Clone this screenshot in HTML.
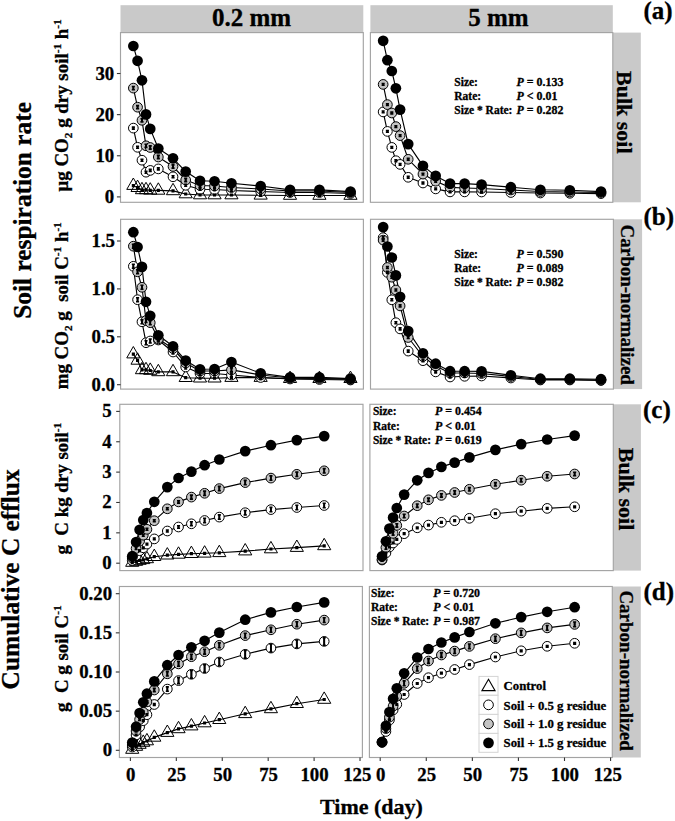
<!DOCTYPE html><html><head><meta charset="utf-8"><style>html,body{margin:0;padding:0;background:#fff;width:675px;height:821px;overflow:hidden}svg{display:block}text{font-family:"Liberation Serif", serif;font-weight:bold;fill:#000;stroke:#000;stroke-width:0.3px}</style></head><body>
<svg width="675" height="821" viewBox="0 0 675 821">
<rect x="0" y="0" width="675" height="821" fill="#fff"/>
<rect x="120.5" y="5.2" width="242.8" height="27.4" fill="#c9c9c9"/>
<rect x="370.4" y="5.2" width="242.4" height="27.4" fill="#c9c9c9"/>
<text x="212" y="25.9" font-size="25" text-anchor="start" >0.2 mm</text>
<text x="468.3" y="25.9" font-size="25" text-anchor="start" >5 mm</text>
<rect x="612.8" y="32.6" width="28" height="169.7" fill="#c9c9c9"/>
<rect x="613.4" y="219.3" width="28.7" height="169.8" fill="#c9c9c9"/>
<rect x="613.3" y="404.3" width="27.6" height="166.3" fill="#c9c9c9"/>
<rect x="612.3" y="586.5" width="28.5" height="171" fill="#c9c9c9"/>
<rect x="120.5" y="32.6" width="242.8" height="169.7" fill="#fff"/>
<rect x="370.4" y="32.6" width="242.4" height="169.7" fill="#fff"/>
<rect x="120.6" y="219.3" width="242.8" height="169.8" fill="#fff"/>
<rect x="370.5" y="219.3" width="242.9" height="169.8" fill="#fff"/>
<rect x="119.8" y="404.3" width="243.2" height="166.3" fill="#fff"/>
<rect x="369.9" y="404.3" width="243.4" height="166.3" fill="#fff"/>
<rect x="119.4" y="586.5" width="243" height="171" fill="#fff"/>
<rect x="369.4" y="586.5" width="242.9" height="171" fill="#fff"/>
<defs>
<clipPath id="caL"><rect x="120.5" y="32.6" width="242.8" height="169.7"/></clipPath>
<clipPath id="caR"><rect x="370.4" y="32.6" width="242.4" height="169.7"/></clipPath>
<clipPath id="cbL"><rect x="120.6" y="219.3" width="242.8" height="169.8"/></clipPath>
<clipPath id="cbR"><rect x="370.5" y="219.3" width="242.9" height="169.8"/></clipPath>
<clipPath id="ccL"><rect x="119.8" y="404.3" width="243.2" height="166.3"/></clipPath>
<clipPath id="ccR"><rect x="369.9" y="404.3" width="243.4" height="166.3"/></clipPath>
<clipPath id="cdL"><rect x="119.4" y="586.5" width="243" height="171"/></clipPath>
<clipPath id="cdR"><rect x="369.4" y="586.5" width="242.9" height="171"/></clipPath>
</defs>
<g clip-path="url(#caL)">
<polyline points="133.34,185.6 137.56,187.7 141.97,189.9 146.01,189.9 150.24,190.3 158.32,190.4 173.02,190.9 185.69,194 200.02,195 214.53,195 231.44,195 260.64,195.3 290.04,195.5 319.43,195.5 350.47,195.5" fill="none" stroke="#000" stroke-width="1.15" stroke-linejoin="round"/>
<polyline points="133.34,128.1 137.56,147.3 141.97,160.2 146.01,172.2 150.24,170.4 158.32,168.9 173.02,176.8 185.69,185.3 200.02,189.3 214.53,189.5 231.44,190.5 260.64,191.5 290.04,192.5 319.43,192.5 350.47,193.5" fill="none" stroke="#000" stroke-width="1.15" stroke-linejoin="round"/>
<polyline points="133.34,88.1 137.56,107.2 141.97,120.3 146.01,145.8 150.24,147.5 158.32,157 173.02,166.5 185.69,180 200.02,185.5 214.53,186 231.44,187.5 260.64,189 290.04,191 319.43,191 350.47,192.5" fill="none" stroke="#000" stroke-width="1.15" stroke-linejoin="round"/>
<polyline points="133.34,46 137.56,60.8 141.97,80.3 146.01,114.4 150.24,128.9 158.32,148.5 173.02,158.3 185.69,171.6 200.02,180.8 214.53,181.3 231.44,183.3 260.64,186 290.04,189.9 319.43,189.9 350.47,191.6" fill="none" stroke="#000" stroke-width="1.15" stroke-linejoin="round"/>
<path d="M133.34 178L139.92 189.4L126.76 189.4Z" fill="none" stroke="#000" stroke-width="1" stroke-linejoin="miter"/>
<path d="M137.56 180.1L144.15 191.5L130.98 191.5Z" fill="none" stroke="#000" stroke-width="1" stroke-linejoin="miter"/>
<path d="M141.97 182.3L148.55 193.7L135.39 193.7Z" fill="none" stroke="#000" stroke-width="1" stroke-linejoin="miter"/>
<path d="M146.01 182.3L152.6 193.7L139.43 193.7Z" fill="none" stroke="#000" stroke-width="1" stroke-linejoin="miter"/>
<path d="M150.24 182.7L156.82 194.1L143.66 194.1Z" fill="none" stroke="#000" stroke-width="1" stroke-linejoin="miter"/>
<path d="M158.32 182.8L164.9 194.2L151.74 194.2Z" fill="none" stroke="#000" stroke-width="1" stroke-linejoin="miter"/>
<path d="M173.02 183.3L179.6 194.7L166.44 194.7Z" fill="none" stroke="#000" stroke-width="1" stroke-linejoin="miter"/>
<path d="M185.69 186.4L192.28 197.8L179.11 197.8Z" fill="none" stroke="#000" stroke-width="1" stroke-linejoin="miter"/>
<path d="M200.02 187.4L206.6 198.8L193.44 198.8Z" fill="none" stroke="#000" stroke-width="1" stroke-linejoin="miter"/>
<path d="M214.53 187.4L221.12 198.8L207.95 198.8Z" fill="none" stroke="#000" stroke-width="1" stroke-linejoin="miter"/>
<path d="M231.44 187.4L238.02 198.8L224.85 198.8Z" fill="none" stroke="#000" stroke-width="1" stroke-linejoin="miter"/>
<path d="M260.64 187.7L267.22 199.1L254.06 199.1Z" fill="none" stroke="#000" stroke-width="1" stroke-linejoin="miter"/>
<path d="M290.04 187.9L296.62 199.3L283.45 199.3Z" fill="none" stroke="#000" stroke-width="1" stroke-linejoin="miter"/>
<path d="M319.43 187.9L326.01 199.3L312.85 199.3Z" fill="none" stroke="#000" stroke-width="1" stroke-linejoin="miter"/>
<path d="M350.47 187.9L357.05 199.3L343.89 199.3Z" fill="none" stroke="#000" stroke-width="1" stroke-linejoin="miter"/>
<circle cx="133.34" cy="128.1" r="4.85" fill="#fff" stroke="#000" stroke-width="1"/>
<circle cx="137.56" cy="147.3" r="4.85" fill="#fff" stroke="#000" stroke-width="1"/>
<circle cx="141.97" cy="160.2" r="4.85" fill="#fff" stroke="#000" stroke-width="1"/>
<circle cx="146.01" cy="172.2" r="4.85" fill="#fff" stroke="#000" stroke-width="1"/>
<circle cx="150.24" cy="170.4" r="4.85" fill="#fff" stroke="#000" stroke-width="1"/>
<circle cx="158.32" cy="168.9" r="4.85" fill="#fff" stroke="#000" stroke-width="1"/>
<circle cx="173.02" cy="176.8" r="4.85" fill="#fff" stroke="#000" stroke-width="1"/>
<circle cx="185.69" cy="185.3" r="4.85" fill="#fff" stroke="#000" stroke-width="1"/>
<circle cx="200.02" cy="189.3" r="4.85" fill="#fff" stroke="#000" stroke-width="1"/>
<circle cx="214.53" cy="189.5" r="4.85" fill="#fff" stroke="#000" stroke-width="1"/>
<circle cx="231.44" cy="190.5" r="4.85" fill="#fff" stroke="#000" stroke-width="1"/>
<circle cx="260.64" cy="191.5" r="4.85" fill="#fff" stroke="#000" stroke-width="1"/>
<circle cx="290.04" cy="192.5" r="4.85" fill="#fff" stroke="#000" stroke-width="1"/>
<circle cx="319.43" cy="192.5" r="4.85" fill="#fff" stroke="#000" stroke-width="1"/>
<circle cx="350.47" cy="193.5" r="4.85" fill="#fff" stroke="#000" stroke-width="1"/>
<circle cx="133.34" cy="88.1" r="4.85" fill="#c3c3c3" stroke="#000" stroke-width="1"/>
<circle cx="137.56" cy="107.2" r="4.85" fill="#c3c3c3" stroke="#000" stroke-width="1"/>
<circle cx="141.97" cy="120.3" r="4.85" fill="#c3c3c3" stroke="#000" stroke-width="1"/>
<circle cx="146.01" cy="145.8" r="4.85" fill="#c3c3c3" stroke="#000" stroke-width="1"/>
<circle cx="150.24" cy="147.5" r="4.85" fill="#c3c3c3" stroke="#000" stroke-width="1"/>
<circle cx="158.32" cy="157" r="4.85" fill="#c3c3c3" stroke="#000" stroke-width="1"/>
<circle cx="173.02" cy="166.5" r="4.85" fill="#c3c3c3" stroke="#000" stroke-width="1"/>
<circle cx="185.69" cy="180" r="4.85" fill="#c3c3c3" stroke="#000" stroke-width="1"/>
<circle cx="200.02" cy="185.5" r="4.85" fill="#c3c3c3" stroke="#000" stroke-width="1"/>
<circle cx="214.53" cy="186" r="4.85" fill="#c3c3c3" stroke="#000" stroke-width="1"/>
<circle cx="231.44" cy="187.5" r="4.85" fill="#c3c3c3" stroke="#000" stroke-width="1"/>
<circle cx="260.64" cy="189" r="4.85" fill="#c3c3c3" stroke="#000" stroke-width="1"/>
<circle cx="290.04" cy="191" r="4.85" fill="#c3c3c3" stroke="#000" stroke-width="1"/>
<circle cx="319.43" cy="191" r="4.85" fill="#c3c3c3" stroke="#000" stroke-width="1"/>
<circle cx="350.47" cy="192.5" r="4.85" fill="#c3c3c3" stroke="#000" stroke-width="1"/>
<circle cx="133.34" cy="46" r="5.35" fill="#000"/>
<circle cx="137.56" cy="60.8" r="5.35" fill="#000"/>
<circle cx="141.97" cy="80.3" r="5.35" fill="#000"/>
<circle cx="146.01" cy="114.4" r="5.35" fill="#000"/>
<circle cx="150.24" cy="128.9" r="5.35" fill="#000"/>
<circle cx="158.32" cy="148.5" r="5.35" fill="#000"/>
<circle cx="173.02" cy="158.3" r="5.35" fill="#000"/>
<circle cx="185.69" cy="171.6" r="5.35" fill="#000"/>
<circle cx="200.02" cy="180.8" r="5.35" fill="#000"/>
<circle cx="214.53" cy="181.3" r="5.35" fill="#000"/>
<circle cx="231.44" cy="183.3" r="5.35" fill="#000"/>
<circle cx="260.64" cy="186" r="5.35" fill="#000"/>
<circle cx="290.04" cy="189.9" r="5.35" fill="#000"/>
<circle cx="319.43" cy="189.9" r="5.35" fill="#000"/>
<circle cx="350.47" cy="191.6" r="5.35" fill="#000"/>
<path d="M131.79 184.8H134.89M133.34 184.8V186.4M131.79 186.4H134.89" stroke="#000" stroke-width="1.6" fill="none"/><path d="M133.34 184.8V186.4" stroke="#000" stroke-width="1.9"/>
<path d="M136.01 186.9H139.11M137.56 186.9V188.5M136.01 188.5H139.11" stroke="#000" stroke-width="1.6" fill="none"/><path d="M137.56 186.9V188.5" stroke="#000" stroke-width="1.9"/>
<path d="M140.42 189.1H143.52M141.97 189.1V190.7M140.42 190.7H143.52" stroke="#000" stroke-width="1.6" fill="none"/><path d="M141.97 189.1V190.7" stroke="#000" stroke-width="1.9"/>
<path d="M144.46 189.1H147.56M146.01 189.1V190.7M144.46 190.7H147.56" stroke="#000" stroke-width="1.6" fill="none"/><path d="M146.01 189.1V190.7" stroke="#000" stroke-width="1.9"/>
<path d="M148.69 189.5H151.79M150.24 189.5V191.1M148.69 191.1H151.79" stroke="#000" stroke-width="1.6" fill="none"/><path d="M150.24 189.5V191.1" stroke="#000" stroke-width="1.9"/>
<path d="M156.77 189.6H159.87M158.32 189.6V191.2M156.77 191.2H159.87" stroke="#000" stroke-width="1.6" fill="none"/><path d="M158.32 189.6V191.2" stroke="#000" stroke-width="1.9"/>
<path d="M171.47 190.1H174.57M173.02 190.1V191.7M171.47 191.7H174.57" stroke="#000" stroke-width="1.6" fill="none"/><path d="M173.02 190.1V191.7" stroke="#000" stroke-width="1.9"/>
<path d="M184.14 193.2H187.24M185.69 193.2V194.8M184.14 194.8H187.24" stroke="#000" stroke-width="1.6" fill="none"/><path d="M185.69 193.2V194.8" stroke="#000" stroke-width="1.9"/>
<path d="M198.47 194.2H201.57M200.02 194.2V195.8M198.47 195.8H201.57" stroke="#000" stroke-width="1.6" fill="none"/><path d="M200.02 194.2V195.8" stroke="#000" stroke-width="1.9"/>
<path d="M212.98 194.2H216.08M214.53 194.2V195.8M212.98 195.8H216.08" stroke="#000" stroke-width="1.6" fill="none"/><path d="M214.53 194.2V195.8" stroke="#000" stroke-width="1.9"/>
<path d="M229.88 194.2H232.99M231.44 194.2V195.8M229.88 195.8H232.99" stroke="#000" stroke-width="1.6" fill="none"/><path d="M231.44 194.2V195.8" stroke="#000" stroke-width="1.9"/>
<path d="M259.09 194.5H262.19M260.64 194.5V196.1M259.09 196.1H262.19" stroke="#000" stroke-width="1.6" fill="none"/><path d="M260.64 194.5V196.1" stroke="#000" stroke-width="1.9"/>
<path d="M288.49 194.7H291.59M290.04 194.7V196.3M288.49 196.3H291.59" stroke="#000" stroke-width="1.6" fill="none"/><path d="M290.04 194.7V196.3" stroke="#000" stroke-width="1.9"/>
<path d="M317.88 194.7H320.98M319.43 194.7V196.3M317.88 196.3H320.98" stroke="#000" stroke-width="1.6" fill="none"/><path d="M319.43 194.7V196.3" stroke="#000" stroke-width="1.9"/>
<path d="M348.92 194.7H352.02M350.47 194.7V196.3M348.92 196.3H352.02" stroke="#000" stroke-width="1.6" fill="none"/><path d="M350.47 194.7V196.3" stroke="#000" stroke-width="1.9"/>
<path d="M131.79 127.1H134.89M133.34 127.1V129.1M131.79 129.1H134.89" stroke="#000" stroke-width="1.6" fill="none"/><path d="M133.34 127.1V129.1" stroke="#000" stroke-width="1.9"/>
<path d="M136.01 146.3H139.11M137.56 146.3V148.3M136.01 148.3H139.11" stroke="#000" stroke-width="1.6" fill="none"/><path d="M137.56 146.3V148.3" stroke="#000" stroke-width="1.9"/>
<path d="M140.42 159.2H143.52M141.97 159.2V161.2M140.42 161.2H143.52" stroke="#000" stroke-width="1.6" fill="none"/><path d="M141.97 159.2V161.2" stroke="#000" stroke-width="1.9"/>
<path d="M144.46 171.2H147.56M146.01 171.2V173.2M144.46 173.2H147.56" stroke="#000" stroke-width="1.6" fill="none"/><path d="M146.01 171.2V173.2" stroke="#000" stroke-width="1.9"/>
<path d="M148.69 169.4H151.79M150.24 169.4V171.4M148.69 171.4H151.79" stroke="#000" stroke-width="1.6" fill="none"/><path d="M150.24 169.4V171.4" stroke="#000" stroke-width="1.9"/>
<path d="M156.77 167.9H159.87M158.32 167.9V169.9M156.77 169.9H159.87" stroke="#000" stroke-width="1.6" fill="none"/><path d="M158.32 167.9V169.9" stroke="#000" stroke-width="1.9"/>
<path d="M171.47 175.8H174.57M173.02 175.8V177.8M171.47 177.8H174.57" stroke="#000" stroke-width="1.6" fill="none"/><path d="M173.02 175.8V177.8" stroke="#000" stroke-width="1.9"/>
<path d="M184.14 184.3H187.24M185.69 184.3V186.3M184.14 186.3H187.24" stroke="#000" stroke-width="1.6" fill="none"/><path d="M185.69 184.3V186.3" stroke="#000" stroke-width="1.9"/>
<path d="M198.47 188.3H201.57M200.02 188.3V190.3M198.47 190.3H201.57" stroke="#000" stroke-width="1.6" fill="none"/><path d="M200.02 188.3V190.3" stroke="#000" stroke-width="1.9"/>
<path d="M212.98 188.5H216.08M214.53 188.5V190.5M212.98 190.5H216.08" stroke="#000" stroke-width="1.6" fill="none"/><path d="M214.53 188.5V190.5" stroke="#000" stroke-width="1.9"/>
<path d="M229.88 189.5H232.99M231.44 189.5V191.5M229.88 191.5H232.99" stroke="#000" stroke-width="1.6" fill="none"/><path d="M231.44 189.5V191.5" stroke="#000" stroke-width="1.9"/>
<path d="M259.09 190.5H262.19M260.64 190.5V192.5M259.09 192.5H262.19" stroke="#000" stroke-width="1.6" fill="none"/><path d="M260.64 190.5V192.5" stroke="#000" stroke-width="1.9"/>
<path d="M288.49 191.5H291.59M290.04 191.5V193.5M288.49 193.5H291.59" stroke="#000" stroke-width="1.6" fill="none"/><path d="M290.04 191.5V193.5" stroke="#000" stroke-width="1.9"/>
<path d="M317.88 191.5H320.98M319.43 191.5V193.5M317.88 193.5H320.98" stroke="#000" stroke-width="1.6" fill="none"/><path d="M319.43 191.5V193.5" stroke="#000" stroke-width="1.9"/>
<path d="M348.92 192.5H352.02M350.47 192.5V194.5M348.92 194.5H352.02" stroke="#000" stroke-width="1.6" fill="none"/><path d="M350.47 192.5V194.5" stroke="#000" stroke-width="1.9"/>
<path d="M131.79 86.5H134.89M133.34 86.5V89.7M131.79 89.7H134.89" stroke="#000" stroke-width="1.6" fill="none"/><path d="M133.34 86.5V89.7" stroke="#000" stroke-width="1.9"/>
<path d="M136.01 105.6H139.11M137.56 105.6V108.8M136.01 108.8H139.11" stroke="#000" stroke-width="1.6" fill="none"/><path d="M137.56 105.6V108.8" stroke="#000" stroke-width="1.9"/>
<path d="M140.42 118.7H143.52M141.97 118.7V121.9M140.42 121.9H143.52" stroke="#000" stroke-width="1.6" fill="none"/><path d="M141.97 118.7V121.9" stroke="#000" stroke-width="1.9"/>
<path d="M144.46 144.2H147.56M146.01 144.2V147.4M144.46 147.4H147.56" stroke="#000" stroke-width="1.6" fill="none"/><path d="M146.01 144.2V147.4" stroke="#000" stroke-width="1.9"/>
<path d="M148.69 145.9H151.79M150.24 145.9V149.1M148.69 149.1H151.79" stroke="#000" stroke-width="1.6" fill="none"/><path d="M150.24 145.9V149.1" stroke="#000" stroke-width="1.9"/>
<path d="M156.77 155.4H159.87M158.32 155.4V158.6M156.77 158.6H159.87" stroke="#000" stroke-width="1.6" fill="none"/><path d="M158.32 155.4V158.6" stroke="#000" stroke-width="1.9"/>
<path d="M171.47 164.9H174.57M173.02 164.9V168.1M171.47 168.1H174.57" stroke="#000" stroke-width="1.6" fill="none"/><path d="M173.02 164.9V168.1" stroke="#000" stroke-width="1.9"/>
<path d="M184.14 178.4H187.24M185.69 178.4V181.6M184.14 181.6H187.24" stroke="#000" stroke-width="1.6" fill="none"/><path d="M185.69 178.4V181.6" stroke="#000" stroke-width="1.9"/>
<path d="M198.47 183.9H201.57M200.02 183.9V187.1M198.47 187.1H201.57" stroke="#000" stroke-width="1.6" fill="none"/><path d="M200.02 183.9V187.1" stroke="#000" stroke-width="1.9"/>
<path d="M212.98 184.4H216.08M214.53 184.4V187.6M212.98 187.6H216.08" stroke="#000" stroke-width="1.6" fill="none"/><path d="M214.53 184.4V187.6" stroke="#000" stroke-width="1.9"/>
<path d="M229.88 185.9H232.99M231.44 185.9V189.1M229.88 189.1H232.99" stroke="#000" stroke-width="1.6" fill="none"/><path d="M231.44 185.9V189.1" stroke="#000" stroke-width="1.9"/>
<path d="M259.09 187.4H262.19M260.64 187.4V190.6M259.09 190.6H262.19" stroke="#000" stroke-width="1.6" fill="none"/><path d="M260.64 187.4V190.6" stroke="#000" stroke-width="1.9"/>
<path d="M288.49 189.4H291.59M290.04 189.4V192.6M288.49 192.6H291.59" stroke="#000" stroke-width="1.6" fill="none"/><path d="M290.04 189.4V192.6" stroke="#000" stroke-width="1.9"/>
<path d="M317.88 189.4H320.98M319.43 189.4V192.6M317.88 192.6H320.98" stroke="#000" stroke-width="1.6" fill="none"/><path d="M319.43 189.4V192.6" stroke="#000" stroke-width="1.9"/>
<path d="M348.92 190.9H352.02M350.47 190.9V194.1M348.92 194.1H352.02" stroke="#000" stroke-width="1.6" fill="none"/><path d="M350.47 190.9V194.1" stroke="#000" stroke-width="1.9"/>
<path d="M131.79 44.5H134.89M133.34 44.5V47.5M131.79 47.5H134.89" stroke="#000" stroke-width="1.6" fill="none"/><path d="M133.34 44.5V47.5" stroke="#000" stroke-width="1.9"/>
<path d="M136.01 59.3H139.11M137.56 59.3V62.3M136.01 62.3H139.11" stroke="#000" stroke-width="1.6" fill="none"/><path d="M137.56 59.3V62.3" stroke="#000" stroke-width="1.9"/>
<path d="M140.42 78.8H143.52M141.97 78.8V81.8M140.42 81.8H143.52" stroke="#000" stroke-width="1.6" fill="none"/><path d="M141.97 78.8V81.8" stroke="#000" stroke-width="1.9"/>
<path d="M144.46 112.9H147.56M146.01 112.9V115.9M144.46 115.9H147.56" stroke="#000" stroke-width="1.6" fill="none"/><path d="M146.01 112.9V115.9" stroke="#000" stroke-width="1.9"/>
<path d="M148.69 127.4H151.79M150.24 127.4V130.4M148.69 130.4H151.79" stroke="#000" stroke-width="1.6" fill="none"/><path d="M150.24 127.4V130.4" stroke="#000" stroke-width="1.9"/>
<path d="M156.77 147H159.87M158.32 147V150M156.77 150H159.87" stroke="#000" stroke-width="1.6" fill="none"/><path d="M158.32 147V150" stroke="#000" stroke-width="1.9"/>
<path d="M171.47 156.8H174.57M173.02 156.8V159.8M171.47 159.8H174.57" stroke="#000" stroke-width="1.6" fill="none"/><path d="M173.02 156.8V159.8" stroke="#000" stroke-width="1.9"/>
<path d="M184.14 170.1H187.24M185.69 170.1V173.1M184.14 173.1H187.24" stroke="#000" stroke-width="1.6" fill="none"/><path d="M185.69 170.1V173.1" stroke="#000" stroke-width="1.9"/>
<path d="M198.47 179.3H201.57M200.02 179.3V182.3M198.47 182.3H201.57" stroke="#000" stroke-width="1.6" fill="none"/><path d="M200.02 179.3V182.3" stroke="#000" stroke-width="1.9"/>
<path d="M212.98 179.8H216.08M214.53 179.8V182.8M212.98 182.8H216.08" stroke="#000" stroke-width="1.6" fill="none"/><path d="M214.53 179.8V182.8" stroke="#000" stroke-width="1.9"/>
<path d="M229.88 181.8H232.99M231.44 181.8V184.8M229.88 184.8H232.99" stroke="#000" stroke-width="1.6" fill="none"/><path d="M231.44 181.8V184.8" stroke="#000" stroke-width="1.9"/>
<path d="M259.09 184.5H262.19M260.64 184.5V187.5M259.09 187.5H262.19" stroke="#000" stroke-width="1.6" fill="none"/><path d="M260.64 184.5V187.5" stroke="#000" stroke-width="1.9"/>
<path d="M288.49 188.4H291.59M290.04 188.4V191.4M288.49 191.4H291.59" stroke="#000" stroke-width="1.6" fill="none"/><path d="M290.04 188.4V191.4" stroke="#000" stroke-width="1.9"/>
<path d="M317.88 188.4H320.98M319.43 188.4V191.4M317.88 191.4H320.98" stroke="#000" stroke-width="1.6" fill="none"/><path d="M319.43 188.4V191.4" stroke="#000" stroke-width="1.9"/>
<path d="M348.92 190.1H352.02M350.47 190.1V193.1M348.92 193.1H352.02" stroke="#000" stroke-width="1.6" fill="none"/><path d="M350.47 190.1V193.1" stroke="#000" stroke-width="1.9"/>
</g>
<g clip-path="url(#caR)">
<polyline points="383.15,111.9 387.39,131.4 391.81,147.4 395.87,160.7 400.1,164.4 408.21,177.3 422.96,183 435.67,188.9 450.05,191.9 464.61,191.9 481.56,192 510.87,192.5 540.36,193 569.84,193.3 600.99,193.6" fill="none" stroke="#000" stroke-width="1.15" stroke-linejoin="round"/>
<polyline points="383.15,84.4 387.39,104.6 391.81,113 395.87,126.6 400.1,135.6 408.21,159.3 422.96,174.1 435.67,181.2 450.05,187.4 464.61,188 481.56,188.5 510.87,190 540.36,191.5 569.84,192 600.99,192.5" fill="none" stroke="#000" stroke-width="1.15" stroke-linejoin="round"/>
<polyline points="383.15,40.8 387.39,60.2 391.81,71 395.87,88.3 400.1,109.6 408.21,144.1 422.96,165.9 435.67,175.9 450.05,183.6 464.61,183.6 481.56,184.6 510.87,187.2 540.36,189.8 569.84,190.3 600.99,191.6" fill="none" stroke="#000" stroke-width="1.15" stroke-linejoin="round"/>
<circle cx="383.15" cy="111.9" r="4.85" fill="#fff" stroke="#000" stroke-width="1"/>
<circle cx="387.39" cy="131.4" r="4.85" fill="#fff" stroke="#000" stroke-width="1"/>
<circle cx="391.81" cy="147.4" r="4.85" fill="#fff" stroke="#000" stroke-width="1"/>
<circle cx="395.87" cy="160.7" r="4.85" fill="#fff" stroke="#000" stroke-width="1"/>
<circle cx="400.1" cy="164.4" r="4.85" fill="#fff" stroke="#000" stroke-width="1"/>
<circle cx="408.21" cy="177.3" r="4.85" fill="#fff" stroke="#000" stroke-width="1"/>
<circle cx="422.96" cy="183" r="4.85" fill="#fff" stroke="#000" stroke-width="1"/>
<circle cx="435.67" cy="188.9" r="4.85" fill="#fff" stroke="#000" stroke-width="1"/>
<circle cx="450.05" cy="191.9" r="4.85" fill="#fff" stroke="#000" stroke-width="1"/>
<circle cx="464.61" cy="191.9" r="4.85" fill="#fff" stroke="#000" stroke-width="1"/>
<circle cx="481.56" cy="192" r="4.85" fill="#fff" stroke="#000" stroke-width="1"/>
<circle cx="510.87" cy="192.5" r="4.85" fill="#fff" stroke="#000" stroke-width="1"/>
<circle cx="540.36" cy="193" r="4.85" fill="#fff" stroke="#000" stroke-width="1"/>
<circle cx="569.84" cy="193.3" r="4.85" fill="#fff" stroke="#000" stroke-width="1"/>
<circle cx="600.99" cy="193.6" r="4.85" fill="#fff" stroke="#000" stroke-width="1"/>
<circle cx="383.15" cy="84.4" r="4.85" fill="#c3c3c3" stroke="#000" stroke-width="1"/>
<circle cx="387.39" cy="104.6" r="4.85" fill="#c3c3c3" stroke="#000" stroke-width="1"/>
<circle cx="391.81" cy="113" r="4.85" fill="#c3c3c3" stroke="#000" stroke-width="1"/>
<circle cx="395.87" cy="126.6" r="4.85" fill="#c3c3c3" stroke="#000" stroke-width="1"/>
<circle cx="400.1" cy="135.6" r="4.85" fill="#c3c3c3" stroke="#000" stroke-width="1"/>
<circle cx="408.21" cy="159.3" r="4.85" fill="#c3c3c3" stroke="#000" stroke-width="1"/>
<circle cx="422.96" cy="174.1" r="4.85" fill="#c3c3c3" stroke="#000" stroke-width="1"/>
<circle cx="435.67" cy="181.2" r="4.85" fill="#c3c3c3" stroke="#000" stroke-width="1"/>
<circle cx="450.05" cy="187.4" r="4.85" fill="#c3c3c3" stroke="#000" stroke-width="1"/>
<circle cx="464.61" cy="188" r="4.85" fill="#c3c3c3" stroke="#000" stroke-width="1"/>
<circle cx="481.56" cy="188.5" r="4.85" fill="#c3c3c3" stroke="#000" stroke-width="1"/>
<circle cx="510.87" cy="190" r="4.85" fill="#c3c3c3" stroke="#000" stroke-width="1"/>
<circle cx="540.36" cy="191.5" r="4.85" fill="#c3c3c3" stroke="#000" stroke-width="1"/>
<circle cx="569.84" cy="192" r="4.85" fill="#c3c3c3" stroke="#000" stroke-width="1"/>
<circle cx="600.99" cy="192.5" r="4.85" fill="#c3c3c3" stroke="#000" stroke-width="1"/>
<circle cx="383.15" cy="40.8" r="5.35" fill="#000"/>
<circle cx="387.39" cy="60.2" r="5.35" fill="#000"/>
<circle cx="391.81" cy="71" r="5.35" fill="#000"/>
<circle cx="395.87" cy="88.3" r="5.35" fill="#000"/>
<circle cx="400.1" cy="109.6" r="5.35" fill="#000"/>
<circle cx="408.21" cy="144.1" r="5.35" fill="#000"/>
<circle cx="422.96" cy="165.9" r="5.35" fill="#000"/>
<circle cx="435.67" cy="175.9" r="5.35" fill="#000"/>
<circle cx="450.05" cy="183.6" r="5.35" fill="#000"/>
<circle cx="464.61" cy="183.6" r="5.35" fill="#000"/>
<circle cx="481.56" cy="184.6" r="5.35" fill="#000"/>
<circle cx="510.87" cy="187.2" r="5.35" fill="#000"/>
<circle cx="540.36" cy="189.8" r="5.35" fill="#000"/>
<circle cx="569.84" cy="190.3" r="5.35" fill="#000"/>
<circle cx="600.99" cy="191.6" r="5.35" fill="#000"/>
<path d="M381.6 111H384.7M383.15 111V112.8M381.6 112.8H384.7" stroke="#000" stroke-width="1.6" fill="none"/><path d="M383.15 111V112.8" stroke="#000" stroke-width="1.9"/>
<path d="M385.84 130.5H388.94M387.39 130.5V132.3M385.84 132.3H388.94" stroke="#000" stroke-width="1.6" fill="none"/><path d="M387.39 130.5V132.3" stroke="#000" stroke-width="1.9"/>
<path d="M390.26 146.5H393.36M391.81 146.5V148.3M390.26 148.3H393.36" stroke="#000" stroke-width="1.6" fill="none"/><path d="M391.81 146.5V148.3" stroke="#000" stroke-width="1.9"/>
<path d="M394.32 159.8H397.42M395.87 159.8V161.6M394.32 161.6H397.42" stroke="#000" stroke-width="1.6" fill="none"/><path d="M395.87 159.8V161.6" stroke="#000" stroke-width="1.9"/>
<path d="M398.55 163.5H401.65M400.1 163.5V165.3M398.55 165.3H401.65" stroke="#000" stroke-width="1.6" fill="none"/><path d="M400.1 163.5V165.3" stroke="#000" stroke-width="1.9"/>
<path d="M406.66 176.4H409.76M408.21 176.4V178.2M406.66 178.2H409.76" stroke="#000" stroke-width="1.6" fill="none"/><path d="M408.21 176.4V178.2" stroke="#000" stroke-width="1.9"/>
<path d="M421.41 182.1H424.51M422.96 182.1V183.9M421.41 183.9H424.51" stroke="#000" stroke-width="1.6" fill="none"/><path d="M422.96 182.1V183.9" stroke="#000" stroke-width="1.9"/>
<path d="M434.12 188H437.22M435.67 188V189.8M434.12 189.8H437.22" stroke="#000" stroke-width="1.6" fill="none"/><path d="M435.67 188V189.8" stroke="#000" stroke-width="1.9"/>
<path d="M448.5 191H451.6M450.05 191V192.8M448.5 192.8H451.6" stroke="#000" stroke-width="1.6" fill="none"/><path d="M450.05 191V192.8" stroke="#000" stroke-width="1.9"/>
<path d="M463.06 191H466.16M464.61 191V192.8M463.06 192.8H466.16" stroke="#000" stroke-width="1.6" fill="none"/><path d="M464.61 191V192.8" stroke="#000" stroke-width="1.9"/>
<path d="M480.01 191.1H483.12M481.56 191.1V192.9M480.01 192.9H483.12" stroke="#000" stroke-width="1.6" fill="none"/><path d="M481.56 191.1V192.9" stroke="#000" stroke-width="1.9"/>
<path d="M509.32 191.6H512.42M510.87 191.6V193.4M509.32 193.4H512.42" stroke="#000" stroke-width="1.6" fill="none"/><path d="M510.87 191.6V193.4" stroke="#000" stroke-width="1.9"/>
<path d="M538.81 192.1H541.91M540.36 192.1V193.9M538.81 193.9H541.91" stroke="#000" stroke-width="1.6" fill="none"/><path d="M540.36 192.1V193.9" stroke="#000" stroke-width="1.9"/>
<path d="M568.29 192.4H571.39M569.84 192.4V194.2M568.29 194.2H571.39" stroke="#000" stroke-width="1.6" fill="none"/><path d="M569.84 192.4V194.2" stroke="#000" stroke-width="1.9"/>
<path d="M599.44 192.7H602.54M600.99 192.7V194.5M599.44 194.5H602.54" stroke="#000" stroke-width="1.6" fill="none"/><path d="M600.99 192.7V194.5" stroke="#000" stroke-width="1.9"/>
<path d="M381.6 83.5H384.7M383.15 83.5V85.3M381.6 85.3H384.7" stroke="#000" stroke-width="1.6" fill="none"/><path d="M383.15 83.5V85.3" stroke="#000" stroke-width="1.9"/>
<path d="M385.84 103.7H388.94M387.39 103.7V105.5M385.84 105.5H388.94" stroke="#000" stroke-width="1.6" fill="none"/><path d="M387.39 103.7V105.5" stroke="#000" stroke-width="1.9"/>
<path d="M390.26 112.1H393.36M391.81 112.1V113.9M390.26 113.9H393.36" stroke="#000" stroke-width="1.6" fill="none"/><path d="M391.81 112.1V113.9" stroke="#000" stroke-width="1.9"/>
<path d="M394.32 125.7H397.42M395.87 125.7V127.5M394.32 127.5H397.42" stroke="#000" stroke-width="1.6" fill="none"/><path d="M395.87 125.7V127.5" stroke="#000" stroke-width="1.9"/>
<path d="M398.55 134.7H401.65M400.1 134.7V136.5M398.55 136.5H401.65" stroke="#000" stroke-width="1.6" fill="none"/><path d="M400.1 134.7V136.5" stroke="#000" stroke-width="1.9"/>
<path d="M406.66 158.4H409.76M408.21 158.4V160.2M406.66 160.2H409.76" stroke="#000" stroke-width="1.6" fill="none"/><path d="M408.21 158.4V160.2" stroke="#000" stroke-width="1.9"/>
<path d="M421.41 173.2H424.51M422.96 173.2V175M421.41 175H424.51" stroke="#000" stroke-width="1.6" fill="none"/><path d="M422.96 173.2V175" stroke="#000" stroke-width="1.9"/>
<path d="M434.12 180.3H437.22M435.67 180.3V182.1M434.12 182.1H437.22" stroke="#000" stroke-width="1.6" fill="none"/><path d="M435.67 180.3V182.1" stroke="#000" stroke-width="1.9"/>
<path d="M448.5 186.5H451.6M450.05 186.5V188.3M448.5 188.3H451.6" stroke="#000" stroke-width="1.6" fill="none"/><path d="M450.05 186.5V188.3" stroke="#000" stroke-width="1.9"/>
<path d="M463.06 187.1H466.16M464.61 187.1V188.9M463.06 188.9H466.16" stroke="#000" stroke-width="1.6" fill="none"/><path d="M464.61 187.1V188.9" stroke="#000" stroke-width="1.9"/>
<path d="M480.01 187.6H483.12M481.56 187.6V189.4M480.01 189.4H483.12" stroke="#000" stroke-width="1.6" fill="none"/><path d="M481.56 187.6V189.4" stroke="#000" stroke-width="1.9"/>
<path d="M509.32 189.1H512.42M510.87 189.1V190.9M509.32 190.9H512.42" stroke="#000" stroke-width="1.6" fill="none"/><path d="M510.87 189.1V190.9" stroke="#000" stroke-width="1.9"/>
<path d="M538.81 190.6H541.91M540.36 190.6V192.4M538.81 192.4H541.91" stroke="#000" stroke-width="1.6" fill="none"/><path d="M540.36 190.6V192.4" stroke="#000" stroke-width="1.9"/>
<path d="M568.29 191.1H571.39M569.84 191.1V192.9M568.29 192.9H571.39" stroke="#000" stroke-width="1.6" fill="none"/><path d="M569.84 191.1V192.9" stroke="#000" stroke-width="1.9"/>
<path d="M599.44 191.6H602.54M600.99 191.6V193.4M599.44 193.4H602.54" stroke="#000" stroke-width="1.6" fill="none"/><path d="M600.99 191.6V193.4" stroke="#000" stroke-width="1.9"/>
<path d="M381.6 39.3H384.7M383.15 39.3V42.3M381.6 42.3H384.7" stroke="#000" stroke-width="1.6" fill="none"/><path d="M383.15 39.3V42.3" stroke="#000" stroke-width="1.9"/>
<path d="M385.84 58.7H388.94M387.39 58.7V61.7M385.84 61.7H388.94" stroke="#000" stroke-width="1.6" fill="none"/><path d="M387.39 58.7V61.7" stroke="#000" stroke-width="1.9"/>
<path d="M390.26 69.5H393.36M391.81 69.5V72.5M390.26 72.5H393.36" stroke="#000" stroke-width="1.6" fill="none"/><path d="M391.81 69.5V72.5" stroke="#000" stroke-width="1.9"/>
<path d="M394.32 86.8H397.42M395.87 86.8V89.8M394.32 89.8H397.42" stroke="#000" stroke-width="1.6" fill="none"/><path d="M395.87 86.8V89.8" stroke="#000" stroke-width="1.9"/>
<path d="M398.55 108.1H401.65M400.1 108.1V111.1M398.55 111.1H401.65" stroke="#000" stroke-width="1.6" fill="none"/><path d="M400.1 108.1V111.1" stroke="#000" stroke-width="1.9"/>
<path d="M406.66 142.6H409.76M408.21 142.6V145.6M406.66 145.6H409.76" stroke="#000" stroke-width="1.6" fill="none"/><path d="M408.21 142.6V145.6" stroke="#000" stroke-width="1.9"/>
<path d="M421.41 164.4H424.51M422.96 164.4V167.4M421.41 167.4H424.51" stroke="#000" stroke-width="1.6" fill="none"/><path d="M422.96 164.4V167.4" stroke="#000" stroke-width="1.9"/>
<path d="M434.12 174.4H437.22M435.67 174.4V177.4M434.12 177.4H437.22" stroke="#000" stroke-width="1.6" fill="none"/><path d="M435.67 174.4V177.4" stroke="#000" stroke-width="1.9"/>
<path d="M448.5 182.1H451.6M450.05 182.1V185.1M448.5 185.1H451.6" stroke="#000" stroke-width="1.6" fill="none"/><path d="M450.05 182.1V185.1" stroke="#000" stroke-width="1.9"/>
<path d="M463.06 182.1H466.16M464.61 182.1V185.1M463.06 185.1H466.16" stroke="#000" stroke-width="1.6" fill="none"/><path d="M464.61 182.1V185.1" stroke="#000" stroke-width="1.9"/>
<path d="M480.01 183.1H483.12M481.56 183.1V186.1M480.01 186.1H483.12" stroke="#000" stroke-width="1.6" fill="none"/><path d="M481.56 183.1V186.1" stroke="#000" stroke-width="1.9"/>
<path d="M509.32 185.7H512.42M510.87 185.7V188.7M509.32 188.7H512.42" stroke="#000" stroke-width="1.6" fill="none"/><path d="M510.87 185.7V188.7" stroke="#000" stroke-width="1.9"/>
<path d="M538.81 188.3H541.91M540.36 188.3V191.3M538.81 191.3H541.91" stroke="#000" stroke-width="1.6" fill="none"/><path d="M540.36 188.3V191.3" stroke="#000" stroke-width="1.9"/>
<path d="M568.29 188.8H571.39M569.84 188.8V191.8M568.29 191.8H571.39" stroke="#000" stroke-width="1.6" fill="none"/><path d="M569.84 188.8V191.8" stroke="#000" stroke-width="1.9"/>
<path d="M599.44 190.1H602.54M600.99 190.1V193.1M599.44 193.1H602.54" stroke="#000" stroke-width="1.6" fill="none"/><path d="M600.99 190.1V193.1" stroke="#000" stroke-width="1.9"/>
</g>
<g clip-path="url(#cbL)">
<polyline points="133.34,354.1 137.56,360.4 141.97,369.9 146.01,369.9 150.24,370.5 158.32,371.9 173.02,371.9 185.69,377.7 200.02,378.2 214.53,378.2 231.44,377.6 260.64,377.6 290.04,378.7 319.43,378.7 350.47,378.7" fill="none" stroke="#000" stroke-width="1.15" stroke-linejoin="round"/>
<polyline points="133.34,266.3 137.56,299.7 141.97,321.8 146.01,342.7 150.24,341 158.32,340 173.02,352 185.69,367 200.02,373.5 214.53,373.5 231.44,375 260.64,377.5 290.04,379 319.43,379.5 350.47,380" fill="none" stroke="#000" stroke-width="1.15" stroke-linejoin="round"/>
<polyline points="133.34,246.2 137.56,271.8 141.97,287.3 146.01,320.5 150.24,322.7 158.32,338.9 173.02,348.5 185.69,363 200.02,371 214.53,371 231.44,369.9 260.64,375 290.04,378 319.43,378.5 350.47,379.5" fill="none" stroke="#000" stroke-width="1.15" stroke-linejoin="round"/>
<polyline points="133.34,232.2 137.56,247 141.97,266.9 146.01,301.8 150.24,315.8 158.32,335.3 173.02,346.3 185.69,360.5 200.02,369.3 214.53,369 231.44,362 260.64,373.3 290.04,377.4 319.43,377.4 350.47,378.6" fill="none" stroke="#000" stroke-width="1.15" stroke-linejoin="round"/>
<path d="M133.34 346.5L139.92 357.9L126.76 357.9Z" fill="none" stroke="#000" stroke-width="1" stroke-linejoin="miter"/>
<path d="M137.56 352.8L144.15 364.2L130.98 364.2Z" fill="none" stroke="#000" stroke-width="1" stroke-linejoin="miter"/>
<path d="M141.97 362.3L148.55 373.7L135.39 373.7Z" fill="none" stroke="#000" stroke-width="1" stroke-linejoin="miter"/>
<path d="M146.01 362.3L152.6 373.7L139.43 373.7Z" fill="none" stroke="#000" stroke-width="1" stroke-linejoin="miter"/>
<path d="M150.24 362.9L156.82 374.3L143.66 374.3Z" fill="none" stroke="#000" stroke-width="1" stroke-linejoin="miter"/>
<path d="M158.32 364.3L164.9 375.7L151.74 375.7Z" fill="none" stroke="#000" stroke-width="1" stroke-linejoin="miter"/>
<path d="M173.02 364.3L179.6 375.7L166.44 375.7Z" fill="none" stroke="#000" stroke-width="1" stroke-linejoin="miter"/>
<path d="M185.69 370.1L192.28 381.5L179.11 381.5Z" fill="none" stroke="#000" stroke-width="1" stroke-linejoin="miter"/>
<path d="M200.02 370.6L206.6 382L193.44 382Z" fill="none" stroke="#000" stroke-width="1" stroke-linejoin="miter"/>
<path d="M214.53 370.6L221.12 382L207.95 382Z" fill="none" stroke="#000" stroke-width="1" stroke-linejoin="miter"/>
<path d="M231.44 370L238.02 381.4L224.85 381.4Z" fill="none" stroke="#000" stroke-width="1" stroke-linejoin="miter"/>
<path d="M260.64 370L267.22 381.4L254.06 381.4Z" fill="none" stroke="#000" stroke-width="1" stroke-linejoin="miter"/>
<path d="M290.04 371.1L296.62 382.5L283.45 382.5Z" fill="none" stroke="#000" stroke-width="1" stroke-linejoin="miter"/>
<path d="M319.43 371.1L326.01 382.5L312.85 382.5Z" fill="none" stroke="#000" stroke-width="1" stroke-linejoin="miter"/>
<path d="M350.47 371.1L357.05 382.5L343.89 382.5Z" fill="none" stroke="#000" stroke-width="1" stroke-linejoin="miter"/>
<circle cx="133.34" cy="266.3" r="4.85" fill="#fff" stroke="#000" stroke-width="1"/>
<circle cx="137.56" cy="299.7" r="4.85" fill="#fff" stroke="#000" stroke-width="1"/>
<circle cx="141.97" cy="321.8" r="4.85" fill="#fff" stroke="#000" stroke-width="1"/>
<circle cx="146.01" cy="342.7" r="4.85" fill="#fff" stroke="#000" stroke-width="1"/>
<circle cx="150.24" cy="341" r="4.85" fill="#fff" stroke="#000" stroke-width="1"/>
<circle cx="158.32" cy="340" r="4.85" fill="#fff" stroke="#000" stroke-width="1"/>
<circle cx="173.02" cy="352" r="4.85" fill="#fff" stroke="#000" stroke-width="1"/>
<circle cx="185.69" cy="367" r="4.85" fill="#fff" stroke="#000" stroke-width="1"/>
<circle cx="200.02" cy="373.5" r="4.85" fill="#fff" stroke="#000" stroke-width="1"/>
<circle cx="214.53" cy="373.5" r="4.85" fill="#fff" stroke="#000" stroke-width="1"/>
<circle cx="231.44" cy="375" r="4.85" fill="#fff" stroke="#000" stroke-width="1"/>
<circle cx="260.64" cy="377.5" r="4.85" fill="#fff" stroke="#000" stroke-width="1"/>
<circle cx="290.04" cy="379" r="4.85" fill="#fff" stroke="#000" stroke-width="1"/>
<circle cx="319.43" cy="379.5" r="4.85" fill="#fff" stroke="#000" stroke-width="1"/>
<circle cx="350.47" cy="380" r="4.85" fill="#fff" stroke="#000" stroke-width="1"/>
<circle cx="133.34" cy="246.2" r="4.85" fill="#c3c3c3" stroke="#000" stroke-width="1"/>
<circle cx="137.56" cy="271.8" r="4.85" fill="#c3c3c3" stroke="#000" stroke-width="1"/>
<circle cx="141.97" cy="287.3" r="4.85" fill="#c3c3c3" stroke="#000" stroke-width="1"/>
<circle cx="146.01" cy="320.5" r="4.85" fill="#c3c3c3" stroke="#000" stroke-width="1"/>
<circle cx="150.24" cy="322.7" r="4.85" fill="#c3c3c3" stroke="#000" stroke-width="1"/>
<circle cx="158.32" cy="338.9" r="4.85" fill="#c3c3c3" stroke="#000" stroke-width="1"/>
<circle cx="173.02" cy="348.5" r="4.85" fill="#c3c3c3" stroke="#000" stroke-width="1"/>
<circle cx="185.69" cy="363" r="4.85" fill="#c3c3c3" stroke="#000" stroke-width="1"/>
<circle cx="200.02" cy="371" r="4.85" fill="#c3c3c3" stroke="#000" stroke-width="1"/>
<circle cx="214.53" cy="371" r="4.85" fill="#c3c3c3" stroke="#000" stroke-width="1"/>
<circle cx="231.44" cy="369.9" r="4.85" fill="#c3c3c3" stroke="#000" stroke-width="1"/>
<circle cx="260.64" cy="375" r="4.85" fill="#c3c3c3" stroke="#000" stroke-width="1"/>
<circle cx="290.04" cy="378" r="4.85" fill="#c3c3c3" stroke="#000" stroke-width="1"/>
<circle cx="319.43" cy="378.5" r="4.85" fill="#c3c3c3" stroke="#000" stroke-width="1"/>
<circle cx="350.47" cy="379.5" r="4.85" fill="#c3c3c3" stroke="#000" stroke-width="1"/>
<circle cx="133.34" cy="232.2" r="5.35" fill="#000"/>
<circle cx="137.56" cy="247" r="5.35" fill="#000"/>
<circle cx="141.97" cy="266.9" r="5.35" fill="#000"/>
<circle cx="146.01" cy="301.8" r="5.35" fill="#000"/>
<circle cx="150.24" cy="315.8" r="5.35" fill="#000"/>
<circle cx="158.32" cy="335.3" r="5.35" fill="#000"/>
<circle cx="173.02" cy="346.3" r="5.35" fill="#000"/>
<circle cx="185.69" cy="360.5" r="5.35" fill="#000"/>
<circle cx="200.02" cy="369.3" r="5.35" fill="#000"/>
<circle cx="214.53" cy="369" r="5.35" fill="#000"/>
<circle cx="231.44" cy="362" r="5.35" fill="#000"/>
<circle cx="260.64" cy="373.3" r="5.35" fill="#000"/>
<circle cx="290.04" cy="377.4" r="5.35" fill="#000"/>
<circle cx="319.43" cy="377.4" r="5.35" fill="#000"/>
<circle cx="350.47" cy="378.6" r="5.35" fill="#000"/>
<path d="M131.79 353.3H134.89M133.34 353.3V354.9M131.79 354.9H134.89" stroke="#000" stroke-width="1.6" fill="none"/><path d="M133.34 353.3V354.9" stroke="#000" stroke-width="1.9"/>
<path d="M136.01 359.6H139.11M137.56 359.6V361.2M136.01 361.2H139.11" stroke="#000" stroke-width="1.6" fill="none"/><path d="M137.56 359.6V361.2" stroke="#000" stroke-width="1.9"/>
<path d="M140.42 369.1H143.52M141.97 369.1V370.7M140.42 370.7H143.52" stroke="#000" stroke-width="1.6" fill="none"/><path d="M141.97 369.1V370.7" stroke="#000" stroke-width="1.9"/>
<path d="M144.46 369.1H147.56M146.01 369.1V370.7M144.46 370.7H147.56" stroke="#000" stroke-width="1.6" fill="none"/><path d="M146.01 369.1V370.7" stroke="#000" stroke-width="1.9"/>
<path d="M148.69 369.7H151.79M150.24 369.7V371.3M148.69 371.3H151.79" stroke="#000" stroke-width="1.6" fill="none"/><path d="M150.24 369.7V371.3" stroke="#000" stroke-width="1.9"/>
<path d="M156.77 371.1H159.87M158.32 371.1V372.7M156.77 372.7H159.87" stroke="#000" stroke-width="1.6" fill="none"/><path d="M158.32 371.1V372.7" stroke="#000" stroke-width="1.9"/>
<path d="M171.47 371.1H174.57M173.02 371.1V372.7M171.47 372.7H174.57" stroke="#000" stroke-width="1.6" fill="none"/><path d="M173.02 371.1V372.7" stroke="#000" stroke-width="1.9"/>
<path d="M184.14 376.9H187.24M185.69 376.9V378.5M184.14 378.5H187.24" stroke="#000" stroke-width="1.6" fill="none"/><path d="M185.69 376.9V378.5" stroke="#000" stroke-width="1.9"/>
<path d="M198.47 377.4H201.57M200.02 377.4V379M198.47 379H201.57" stroke="#000" stroke-width="1.6" fill="none"/><path d="M200.02 377.4V379" stroke="#000" stroke-width="1.9"/>
<path d="M212.98 377.4H216.08M214.53 377.4V379M212.98 379H216.08" stroke="#000" stroke-width="1.6" fill="none"/><path d="M214.53 377.4V379" stroke="#000" stroke-width="1.9"/>
<path d="M229.88 376.8H232.99M231.44 376.8V378.4M229.88 378.4H232.99" stroke="#000" stroke-width="1.6" fill="none"/><path d="M231.44 376.8V378.4" stroke="#000" stroke-width="1.9"/>
<path d="M259.09 376.8H262.19M260.64 376.8V378.4M259.09 378.4H262.19" stroke="#000" stroke-width="1.6" fill="none"/><path d="M260.64 376.8V378.4" stroke="#000" stroke-width="1.9"/>
<path d="M288.49 377.9H291.59M290.04 377.9V379.5M288.49 379.5H291.59" stroke="#000" stroke-width="1.6" fill="none"/><path d="M290.04 377.9V379.5" stroke="#000" stroke-width="1.9"/>
<path d="M317.88 377.9H320.98M319.43 377.9V379.5M317.88 379.5H320.98" stroke="#000" stroke-width="1.6" fill="none"/><path d="M319.43 377.9V379.5" stroke="#000" stroke-width="1.9"/>
<path d="M348.92 377.9H352.02M350.47 377.9V379.5M348.92 379.5H352.02" stroke="#000" stroke-width="1.6" fill="none"/><path d="M350.47 377.9V379.5" stroke="#000" stroke-width="1.9"/>
<path d="M131.79 264.3H134.89M133.34 264.3V268.3M131.79 268.3H134.89" stroke="#000" stroke-width="1.6" fill="none"/><path d="M133.34 264.3V268.3" stroke="#000" stroke-width="1.9"/>
<path d="M136.01 297.7H139.11M137.56 297.7V301.7M136.01 301.7H139.11" stroke="#000" stroke-width="1.6" fill="none"/><path d="M137.56 297.7V301.7" stroke="#000" stroke-width="1.9"/>
<path d="M140.42 319.8H143.52M141.97 319.8V323.8M140.42 323.8H143.52" stroke="#000" stroke-width="1.6" fill="none"/><path d="M141.97 319.8V323.8" stroke="#000" stroke-width="1.9"/>
<path d="M144.46 340.7H147.56M146.01 340.7V344.7M144.46 344.7H147.56" stroke="#000" stroke-width="1.6" fill="none"/><path d="M146.01 340.7V344.7" stroke="#000" stroke-width="1.9"/>
<path d="M148.69 339H151.79M150.24 339V343M148.69 343H151.79" stroke="#000" stroke-width="1.6" fill="none"/><path d="M150.24 339V343" stroke="#000" stroke-width="1.9"/>
<path d="M156.77 338H159.87M158.32 338V342M156.77 342H159.87" stroke="#000" stroke-width="1.6" fill="none"/><path d="M158.32 338V342" stroke="#000" stroke-width="1.9"/>
<path d="M171.47 350H174.57M173.02 350V354M171.47 354H174.57" stroke="#000" stroke-width="1.6" fill="none"/><path d="M173.02 350V354" stroke="#000" stroke-width="1.9"/>
<path d="M184.14 365H187.24M185.69 365V369M184.14 369H187.24" stroke="#000" stroke-width="1.6" fill="none"/><path d="M185.69 365V369" stroke="#000" stroke-width="1.9"/>
<path d="M198.47 371.5H201.57M200.02 371.5V375.5M198.47 375.5H201.57" stroke="#000" stroke-width="1.6" fill="none"/><path d="M200.02 371.5V375.5" stroke="#000" stroke-width="1.9"/>
<path d="M212.98 371.5H216.08M214.53 371.5V375.5M212.98 375.5H216.08" stroke="#000" stroke-width="1.6" fill="none"/><path d="M214.53 371.5V375.5" stroke="#000" stroke-width="1.9"/>
<path d="M229.88 373H232.99M231.44 373V377M229.88 377H232.99" stroke="#000" stroke-width="1.6" fill="none"/><path d="M231.44 373V377" stroke="#000" stroke-width="1.9"/>
<path d="M259.09 375.5H262.19M260.64 375.5V379.5M259.09 379.5H262.19" stroke="#000" stroke-width="1.6" fill="none"/><path d="M260.64 375.5V379.5" stroke="#000" stroke-width="1.9"/>
<path d="M288.49 377H291.59M290.04 377V381M288.49 381H291.59" stroke="#000" stroke-width="1.6" fill="none"/><path d="M290.04 377V381" stroke="#000" stroke-width="1.9"/>
<path d="M317.88 377.5H320.98M319.43 377.5V381.5M317.88 381.5H320.98" stroke="#000" stroke-width="1.6" fill="none"/><path d="M319.43 377.5V381.5" stroke="#000" stroke-width="1.9"/>
<path d="M348.92 378H352.02M350.47 378V382M348.92 382H352.02" stroke="#000" stroke-width="1.6" fill="none"/><path d="M350.47 378V382" stroke="#000" stroke-width="1.9"/>
<path d="M131.79 244.2H134.89M133.34 244.2V248.2M131.79 248.2H134.89" stroke="#000" stroke-width="1.6" fill="none"/><path d="M133.34 244.2V248.2" stroke="#000" stroke-width="1.9"/>
<path d="M136.01 269.8H139.11M137.56 269.8V273.8M136.01 273.8H139.11" stroke="#000" stroke-width="1.6" fill="none"/><path d="M137.56 269.8V273.8" stroke="#000" stroke-width="1.9"/>
<path d="M140.42 285.3H143.52M141.97 285.3V289.3M140.42 289.3H143.52" stroke="#000" stroke-width="1.6" fill="none"/><path d="M141.97 285.3V289.3" stroke="#000" stroke-width="1.9"/>
<path d="M144.46 318.5H147.56M146.01 318.5V322.5M144.46 322.5H147.56" stroke="#000" stroke-width="1.6" fill="none"/><path d="M146.01 318.5V322.5" stroke="#000" stroke-width="1.9"/>
<path d="M148.69 320.7H151.79M150.24 320.7V324.7M148.69 324.7H151.79" stroke="#000" stroke-width="1.6" fill="none"/><path d="M150.24 320.7V324.7" stroke="#000" stroke-width="1.9"/>
<path d="M156.77 336.9H159.87M158.32 336.9V340.9M156.77 340.9H159.87" stroke="#000" stroke-width="1.6" fill="none"/><path d="M158.32 336.9V340.9" stroke="#000" stroke-width="1.9"/>
<path d="M171.47 346.5H174.57M173.02 346.5V350.5M171.47 350.5H174.57" stroke="#000" stroke-width="1.6" fill="none"/><path d="M173.02 346.5V350.5" stroke="#000" stroke-width="1.9"/>
<path d="M184.14 361H187.24M185.69 361V365M184.14 365H187.24" stroke="#000" stroke-width="1.6" fill="none"/><path d="M185.69 361V365" stroke="#000" stroke-width="1.9"/>
<path d="M198.47 369H201.57M200.02 369V373M198.47 373H201.57" stroke="#000" stroke-width="1.6" fill="none"/><path d="M200.02 369V373" stroke="#000" stroke-width="1.9"/>
<path d="M212.98 369H216.08M214.53 369V373M212.98 373H216.08" stroke="#000" stroke-width="1.6" fill="none"/><path d="M214.53 369V373" stroke="#000" stroke-width="1.9"/>
<path d="M229.88 367.9H232.99M231.44 367.9V371.9M229.88 371.9H232.99" stroke="#000" stroke-width="1.6" fill="none"/><path d="M231.44 367.9V371.9" stroke="#000" stroke-width="1.9"/>
<path d="M259.09 373H262.19M260.64 373V377M259.09 377H262.19" stroke="#000" stroke-width="1.6" fill="none"/><path d="M260.64 373V377" stroke="#000" stroke-width="1.9"/>
<path d="M288.49 376H291.59M290.04 376V380M288.49 380H291.59" stroke="#000" stroke-width="1.6" fill="none"/><path d="M290.04 376V380" stroke="#000" stroke-width="1.9"/>
<path d="M317.88 376.5H320.98M319.43 376.5V380.5M317.88 380.5H320.98" stroke="#000" stroke-width="1.6" fill="none"/><path d="M319.43 376.5V380.5" stroke="#000" stroke-width="1.9"/>
<path d="M348.92 377.5H352.02M350.47 377.5V381.5M348.92 381.5H352.02" stroke="#000" stroke-width="1.6" fill="none"/><path d="M350.47 377.5V381.5" stroke="#000" stroke-width="1.9"/>
<path d="M131.79 230.7H134.89M133.34 230.7V233.7M131.79 233.7H134.89" stroke="#000" stroke-width="1.6" fill="none"/><path d="M133.34 230.7V233.7" stroke="#000" stroke-width="1.9"/>
<path d="M136.01 245.5H139.11M137.56 245.5V248.5M136.01 248.5H139.11" stroke="#000" stroke-width="1.6" fill="none"/><path d="M137.56 245.5V248.5" stroke="#000" stroke-width="1.9"/>
<path d="M140.42 265.4H143.52M141.97 265.4V268.4M140.42 268.4H143.52" stroke="#000" stroke-width="1.6" fill="none"/><path d="M141.97 265.4V268.4" stroke="#000" stroke-width="1.9"/>
<path d="M144.46 300.3H147.56M146.01 300.3V303.3M144.46 303.3H147.56" stroke="#000" stroke-width="1.6" fill="none"/><path d="M146.01 300.3V303.3" stroke="#000" stroke-width="1.9"/>
<path d="M148.69 314.3H151.79M150.24 314.3V317.3M148.69 317.3H151.79" stroke="#000" stroke-width="1.6" fill="none"/><path d="M150.24 314.3V317.3" stroke="#000" stroke-width="1.9"/>
<path d="M156.77 333.8H159.87M158.32 333.8V336.8M156.77 336.8H159.87" stroke="#000" stroke-width="1.6" fill="none"/><path d="M158.32 333.8V336.8" stroke="#000" stroke-width="1.9"/>
<path d="M171.47 344.8H174.57M173.02 344.8V347.8M171.47 347.8H174.57" stroke="#000" stroke-width="1.6" fill="none"/><path d="M173.02 344.8V347.8" stroke="#000" stroke-width="1.9"/>
<path d="M184.14 359H187.24M185.69 359V362M184.14 362H187.24" stroke="#000" stroke-width="1.6" fill="none"/><path d="M185.69 359V362" stroke="#000" stroke-width="1.9"/>
<path d="M198.47 367.8H201.57M200.02 367.8V370.8M198.47 370.8H201.57" stroke="#000" stroke-width="1.6" fill="none"/><path d="M200.02 367.8V370.8" stroke="#000" stroke-width="1.9"/>
<path d="M212.98 367.5H216.08M214.53 367.5V370.5M212.98 370.5H216.08" stroke="#000" stroke-width="1.6" fill="none"/><path d="M214.53 367.5V370.5" stroke="#000" stroke-width="1.9"/>
<path d="M229.88 360.5H232.99M231.44 360.5V363.5M229.88 363.5H232.99" stroke="#000" stroke-width="1.6" fill="none"/><path d="M231.44 360.5V363.5" stroke="#000" stroke-width="1.9"/>
<path d="M259.09 371.8H262.19M260.64 371.8V374.8M259.09 374.8H262.19" stroke="#000" stroke-width="1.6" fill="none"/><path d="M260.64 371.8V374.8" stroke="#000" stroke-width="1.9"/>
<path d="M288.49 375.9H291.59M290.04 375.9V378.9M288.49 378.9H291.59" stroke="#000" stroke-width="1.6" fill="none"/><path d="M290.04 375.9V378.9" stroke="#000" stroke-width="1.9"/>
<path d="M317.88 375.9H320.98M319.43 375.9V378.9M317.88 378.9H320.98" stroke="#000" stroke-width="1.6" fill="none"/><path d="M319.43 375.9V378.9" stroke="#000" stroke-width="1.9"/>
<path d="M348.92 377.1H352.02M350.47 377.1V380.1M348.92 380.1H352.02" stroke="#000" stroke-width="1.6" fill="none"/><path d="M350.47 377.1V380.1" stroke="#000" stroke-width="1.9"/>
</g>
<g clip-path="url(#cbR)">
<polyline points="383.15,237.7 387.39,272.4 391.81,299.8 395.87,322.7 400.1,328.9 408.21,351.1 422.96,360.7 435.67,371.9 450.05,377 464.61,376.3 481.56,376 510.87,378 540.36,380 569.84,380 600.99,380.5" fill="none" stroke="#000" stroke-width="1.15" stroke-linejoin="round"/>
<polyline points="383.15,240.1 387.39,267.5 391.81,277.2 395.87,290 400.1,305.9 408.21,337.5 422.96,356.5 435.67,366 450.05,373 464.61,373 481.56,373.5 510.87,376.5 540.36,379.5 569.84,379.5 600.99,380" fill="none" stroke="#000" stroke-width="1.15" stroke-linejoin="round"/>
<polyline points="383.15,227.1 387.39,246.5 391.81,257.5 395.87,275.4 400.1,296.8 408.21,331.1 422.96,353.3 435.67,363.7 450.05,371.2 464.61,371.2 481.56,371.4 510.87,375.3 540.36,378.7 569.84,378.7 600.99,379.2" fill="none" stroke="#000" stroke-width="1.15" stroke-linejoin="round"/>
<circle cx="383.15" cy="237.7" r="4.85" fill="#fff" stroke="#000" stroke-width="1"/>
<circle cx="387.39" cy="272.4" r="4.85" fill="#fff" stroke="#000" stroke-width="1"/>
<circle cx="391.81" cy="299.8" r="4.85" fill="#fff" stroke="#000" stroke-width="1"/>
<circle cx="395.87" cy="322.7" r="4.85" fill="#fff" stroke="#000" stroke-width="1"/>
<circle cx="400.1" cy="328.9" r="4.85" fill="#fff" stroke="#000" stroke-width="1"/>
<circle cx="408.21" cy="351.1" r="4.85" fill="#fff" stroke="#000" stroke-width="1"/>
<circle cx="422.96" cy="360.7" r="4.85" fill="#fff" stroke="#000" stroke-width="1"/>
<circle cx="435.67" cy="371.9" r="4.85" fill="#fff" stroke="#000" stroke-width="1"/>
<circle cx="450.05" cy="377" r="4.85" fill="#fff" stroke="#000" stroke-width="1"/>
<circle cx="464.61" cy="376.3" r="4.85" fill="#fff" stroke="#000" stroke-width="1"/>
<circle cx="481.56" cy="376" r="4.85" fill="#fff" stroke="#000" stroke-width="1"/>
<circle cx="510.87" cy="378" r="4.85" fill="#fff" stroke="#000" stroke-width="1"/>
<circle cx="540.36" cy="380" r="4.85" fill="#fff" stroke="#000" stroke-width="1"/>
<circle cx="569.84" cy="380" r="4.85" fill="#fff" stroke="#000" stroke-width="1"/>
<circle cx="600.99" cy="380.5" r="4.85" fill="#fff" stroke="#000" stroke-width="1"/>
<circle cx="383.15" cy="240.1" r="4.85" fill="#c3c3c3" stroke="#000" stroke-width="1"/>
<circle cx="387.39" cy="267.5" r="4.85" fill="#c3c3c3" stroke="#000" stroke-width="1"/>
<circle cx="391.81" cy="277.2" r="4.85" fill="#c3c3c3" stroke="#000" stroke-width="1"/>
<circle cx="395.87" cy="290" r="4.85" fill="#c3c3c3" stroke="#000" stroke-width="1"/>
<circle cx="400.1" cy="305.9" r="4.85" fill="#c3c3c3" stroke="#000" stroke-width="1"/>
<circle cx="408.21" cy="337.5" r="4.85" fill="#c3c3c3" stroke="#000" stroke-width="1"/>
<circle cx="422.96" cy="356.5" r="4.85" fill="#c3c3c3" stroke="#000" stroke-width="1"/>
<circle cx="435.67" cy="366" r="4.85" fill="#c3c3c3" stroke="#000" stroke-width="1"/>
<circle cx="450.05" cy="373" r="4.85" fill="#c3c3c3" stroke="#000" stroke-width="1"/>
<circle cx="464.61" cy="373" r="4.85" fill="#c3c3c3" stroke="#000" stroke-width="1"/>
<circle cx="481.56" cy="373.5" r="4.85" fill="#c3c3c3" stroke="#000" stroke-width="1"/>
<circle cx="510.87" cy="376.5" r="4.85" fill="#c3c3c3" stroke="#000" stroke-width="1"/>
<circle cx="540.36" cy="379.5" r="4.85" fill="#c3c3c3" stroke="#000" stroke-width="1"/>
<circle cx="569.84" cy="379.5" r="4.85" fill="#c3c3c3" stroke="#000" stroke-width="1"/>
<circle cx="600.99" cy="380" r="4.85" fill="#c3c3c3" stroke="#000" stroke-width="1"/>
<circle cx="383.15" cy="227.1" r="5.35" fill="#000"/>
<circle cx="387.39" cy="246.5" r="5.35" fill="#000"/>
<circle cx="391.81" cy="257.5" r="5.35" fill="#000"/>
<circle cx="395.87" cy="275.4" r="5.35" fill="#000"/>
<circle cx="400.1" cy="296.8" r="5.35" fill="#000"/>
<circle cx="408.21" cy="331.1" r="5.35" fill="#000"/>
<circle cx="422.96" cy="353.3" r="5.35" fill="#000"/>
<circle cx="435.67" cy="363.7" r="5.35" fill="#000"/>
<circle cx="450.05" cy="371.2" r="5.35" fill="#000"/>
<circle cx="464.61" cy="371.2" r="5.35" fill="#000"/>
<circle cx="481.56" cy="371.4" r="5.35" fill="#000"/>
<circle cx="510.87" cy="375.3" r="5.35" fill="#000"/>
<circle cx="540.36" cy="378.7" r="5.35" fill="#000"/>
<circle cx="569.84" cy="378.7" r="5.35" fill="#000"/>
<circle cx="600.99" cy="379.2" r="5.35" fill="#000"/>
<path d="M381.6 236.7H384.7M383.15 236.7V238.7M381.6 238.7H384.7" stroke="#000" stroke-width="1.6" fill="none"/><path d="M383.15 236.7V238.7" stroke="#000" stroke-width="1.9"/>
<path d="M385.84 271.4H388.94M387.39 271.4V273.4M385.84 273.4H388.94" stroke="#000" stroke-width="1.6" fill="none"/><path d="M387.39 271.4V273.4" stroke="#000" stroke-width="1.9"/>
<path d="M390.26 298.8H393.36M391.81 298.8V300.8M390.26 300.8H393.36" stroke="#000" stroke-width="1.6" fill="none"/><path d="M391.81 298.8V300.8" stroke="#000" stroke-width="1.9"/>
<path d="M394.32 321.7H397.42M395.87 321.7V323.7M394.32 323.7H397.42" stroke="#000" stroke-width="1.6" fill="none"/><path d="M395.87 321.7V323.7" stroke="#000" stroke-width="1.9"/>
<path d="M398.55 327.9H401.65M400.1 327.9V329.9M398.55 329.9H401.65" stroke="#000" stroke-width="1.6" fill="none"/><path d="M400.1 327.9V329.9" stroke="#000" stroke-width="1.9"/>
<path d="M406.66 350.1H409.76M408.21 350.1V352.1M406.66 352.1H409.76" stroke="#000" stroke-width="1.6" fill="none"/><path d="M408.21 350.1V352.1" stroke="#000" stroke-width="1.9"/>
<path d="M421.41 359.7H424.51M422.96 359.7V361.7M421.41 361.7H424.51" stroke="#000" stroke-width="1.6" fill="none"/><path d="M422.96 359.7V361.7" stroke="#000" stroke-width="1.9"/>
<path d="M434.12 370.9H437.22M435.67 370.9V372.9M434.12 372.9H437.22" stroke="#000" stroke-width="1.6" fill="none"/><path d="M435.67 370.9V372.9" stroke="#000" stroke-width="1.9"/>
<path d="M448.5 376H451.6M450.05 376V378M448.5 378H451.6" stroke="#000" stroke-width="1.6" fill="none"/><path d="M450.05 376V378" stroke="#000" stroke-width="1.9"/>
<path d="M463.06 375.3H466.16M464.61 375.3V377.3M463.06 377.3H466.16" stroke="#000" stroke-width="1.6" fill="none"/><path d="M464.61 375.3V377.3" stroke="#000" stroke-width="1.9"/>
<path d="M480.01 375H483.12M481.56 375V377M480.01 377H483.12" stroke="#000" stroke-width="1.6" fill="none"/><path d="M481.56 375V377" stroke="#000" stroke-width="1.9"/>
<path d="M509.32 377H512.42M510.87 377V379M509.32 379H512.42" stroke="#000" stroke-width="1.6" fill="none"/><path d="M510.87 377V379" stroke="#000" stroke-width="1.9"/>
<path d="M538.81 379H541.91M540.36 379V381M538.81 381H541.91" stroke="#000" stroke-width="1.6" fill="none"/><path d="M540.36 379V381" stroke="#000" stroke-width="1.9"/>
<path d="M568.29 379H571.39M569.84 379V381M568.29 381H571.39" stroke="#000" stroke-width="1.6" fill="none"/><path d="M569.84 379V381" stroke="#000" stroke-width="1.9"/>
<path d="M599.44 379.5H602.54M600.99 379.5V381.5M599.44 381.5H602.54" stroke="#000" stroke-width="1.6" fill="none"/><path d="M600.99 379.5V381.5" stroke="#000" stroke-width="1.9"/>
<path d="M381.6 239.1H384.7M383.15 239.1V241.1M381.6 241.1H384.7" stroke="#000" stroke-width="1.6" fill="none"/><path d="M383.15 239.1V241.1" stroke="#000" stroke-width="1.9"/>
<path d="M385.84 266.5H388.94M387.39 266.5V268.5M385.84 268.5H388.94" stroke="#000" stroke-width="1.6" fill="none"/><path d="M387.39 266.5V268.5" stroke="#000" stroke-width="1.9"/>
<path d="M390.26 276.2H393.36M391.81 276.2V278.2M390.26 278.2H393.36" stroke="#000" stroke-width="1.6" fill="none"/><path d="M391.81 276.2V278.2" stroke="#000" stroke-width="1.9"/>
<path d="M394.32 289H397.42M395.87 289V291M394.32 291H397.42" stroke="#000" stroke-width="1.6" fill="none"/><path d="M395.87 289V291" stroke="#000" stroke-width="1.9"/>
<path d="M398.55 304.9H401.65M400.1 304.9V306.9M398.55 306.9H401.65" stroke="#000" stroke-width="1.6" fill="none"/><path d="M400.1 304.9V306.9" stroke="#000" stroke-width="1.9"/>
<path d="M406.66 336.5H409.76M408.21 336.5V338.5M406.66 338.5H409.76" stroke="#000" stroke-width="1.6" fill="none"/><path d="M408.21 336.5V338.5" stroke="#000" stroke-width="1.9"/>
<path d="M421.41 355.5H424.51M422.96 355.5V357.5M421.41 357.5H424.51" stroke="#000" stroke-width="1.6" fill="none"/><path d="M422.96 355.5V357.5" stroke="#000" stroke-width="1.9"/>
<path d="M434.12 365H437.22M435.67 365V367M434.12 367H437.22" stroke="#000" stroke-width="1.6" fill="none"/><path d="M435.67 365V367" stroke="#000" stroke-width="1.9"/>
<path d="M448.5 372H451.6M450.05 372V374M448.5 374H451.6" stroke="#000" stroke-width="1.6" fill="none"/><path d="M450.05 372V374" stroke="#000" stroke-width="1.9"/>
<path d="M463.06 372H466.16M464.61 372V374M463.06 374H466.16" stroke="#000" stroke-width="1.6" fill="none"/><path d="M464.61 372V374" stroke="#000" stroke-width="1.9"/>
<path d="M480.01 372.5H483.12M481.56 372.5V374.5M480.01 374.5H483.12" stroke="#000" stroke-width="1.6" fill="none"/><path d="M481.56 372.5V374.5" stroke="#000" stroke-width="1.9"/>
<path d="M509.32 375.5H512.42M510.87 375.5V377.5M509.32 377.5H512.42" stroke="#000" stroke-width="1.6" fill="none"/><path d="M510.87 375.5V377.5" stroke="#000" stroke-width="1.9"/>
<path d="M538.81 378.5H541.91M540.36 378.5V380.5M538.81 380.5H541.91" stroke="#000" stroke-width="1.6" fill="none"/><path d="M540.36 378.5V380.5" stroke="#000" stroke-width="1.9"/>
<path d="M568.29 378.5H571.39M569.84 378.5V380.5M568.29 380.5H571.39" stroke="#000" stroke-width="1.6" fill="none"/><path d="M569.84 378.5V380.5" stroke="#000" stroke-width="1.9"/>
<path d="M599.44 379H602.54M600.99 379V381M599.44 381H602.54" stroke="#000" stroke-width="1.6" fill="none"/><path d="M600.99 379V381" stroke="#000" stroke-width="1.9"/>
<path d="M381.6 225.6H384.7M383.15 225.6V228.6M381.6 228.6H384.7" stroke="#000" stroke-width="1.6" fill="none"/><path d="M383.15 225.6V228.6" stroke="#000" stroke-width="1.9"/>
<path d="M385.84 245H388.94M387.39 245V248M385.84 248H388.94" stroke="#000" stroke-width="1.6" fill="none"/><path d="M387.39 245V248" stroke="#000" stroke-width="1.9"/>
<path d="M390.26 256H393.36M391.81 256V259M390.26 259H393.36" stroke="#000" stroke-width="1.6" fill="none"/><path d="M391.81 256V259" stroke="#000" stroke-width="1.9"/>
<path d="M394.32 273.9H397.42M395.87 273.9V276.9M394.32 276.9H397.42" stroke="#000" stroke-width="1.6" fill="none"/><path d="M395.87 273.9V276.9" stroke="#000" stroke-width="1.9"/>
<path d="M398.55 295.3H401.65M400.1 295.3V298.3M398.55 298.3H401.65" stroke="#000" stroke-width="1.6" fill="none"/><path d="M400.1 295.3V298.3" stroke="#000" stroke-width="1.9"/>
<path d="M406.66 329.6H409.76M408.21 329.6V332.6M406.66 332.6H409.76" stroke="#000" stroke-width="1.6" fill="none"/><path d="M408.21 329.6V332.6" stroke="#000" stroke-width="1.9"/>
<path d="M421.41 351.8H424.51M422.96 351.8V354.8M421.41 354.8H424.51" stroke="#000" stroke-width="1.6" fill="none"/><path d="M422.96 351.8V354.8" stroke="#000" stroke-width="1.9"/>
<path d="M434.12 362.2H437.22M435.67 362.2V365.2M434.12 365.2H437.22" stroke="#000" stroke-width="1.6" fill="none"/><path d="M435.67 362.2V365.2" stroke="#000" stroke-width="1.9"/>
<path d="M448.5 369.7H451.6M450.05 369.7V372.7M448.5 372.7H451.6" stroke="#000" stroke-width="1.6" fill="none"/><path d="M450.05 369.7V372.7" stroke="#000" stroke-width="1.9"/>
<path d="M463.06 369.7H466.16M464.61 369.7V372.7M463.06 372.7H466.16" stroke="#000" stroke-width="1.6" fill="none"/><path d="M464.61 369.7V372.7" stroke="#000" stroke-width="1.9"/>
<path d="M480.01 369.9H483.12M481.56 369.9V372.9M480.01 372.9H483.12" stroke="#000" stroke-width="1.6" fill="none"/><path d="M481.56 369.9V372.9" stroke="#000" stroke-width="1.9"/>
<path d="M509.32 373.8H512.42M510.87 373.8V376.8M509.32 376.8H512.42" stroke="#000" stroke-width="1.6" fill="none"/><path d="M510.87 373.8V376.8" stroke="#000" stroke-width="1.9"/>
<path d="M538.81 377.2H541.91M540.36 377.2V380.2M538.81 380.2H541.91" stroke="#000" stroke-width="1.6" fill="none"/><path d="M540.36 377.2V380.2" stroke="#000" stroke-width="1.9"/>
<path d="M568.29 377.2H571.39M569.84 377.2V380.2M568.29 380.2H571.39" stroke="#000" stroke-width="1.6" fill="none"/><path d="M569.84 377.2V380.2" stroke="#000" stroke-width="1.9"/>
<path d="M599.44 377.7H602.54M600.99 377.7V380.7M599.44 380.7H602.54" stroke="#000" stroke-width="1.6" fill="none"/><path d="M600.99 377.7V380.7" stroke="#000" stroke-width="1.9"/>
</g>
<g clip-path="url(#ccL)">
<polyline points="132.24,562.5 136.09,561.5 139.59,560.5 143.26,559.8 146.93,558.9 154.28,556.7 167.32,555.2 178.53,554.4 191.39,553.7 204.61,553.3 219.31,552.8 245.21,551.1 270.93,549 296.83,547.6 324.2,545.9" fill="none" stroke="#000" stroke-width="1.15" stroke-linejoin="round"/>
<polyline points="132.24,560.4 136.09,555.9 139.59,550.7 143.26,547.8 146.93,544.1 154.28,538.9 167.32,531 178.53,527 191.39,523.8 204.61,520.5 219.31,517.1 245.21,512.7 270.93,509.6 296.83,507.5 324.2,505.5" fill="none" stroke="#000" stroke-width="1.15" stroke-linejoin="round"/>
<polyline points="132.24,558 136.09,548.5 139.59,541.1 143.26,535.2 146.93,529.3 154.28,520.7 167.32,508.8 178.53,501.9 191.39,497.1 204.61,493.3 219.31,488.6 245.21,482.6 270.93,478.1 296.83,474.3 324.2,470.8" fill="none" stroke="#000" stroke-width="1.15" stroke-linejoin="round"/>
<polyline points="132.24,556.2 136.09,542 139.59,529.8 143.26,520 146.93,513.1 154.28,501.8 167.32,487.1 178.53,478 191.39,471.6 204.61,465.2 219.31,459.5 245.21,451.1 270.93,445.2 296.83,440.1 324.2,436.1" fill="none" stroke="#000" stroke-width="1.15" stroke-linejoin="round"/>
<path d="M132.24 554.9L138.82 566.3L125.66 566.3Z" fill="none" stroke="#000" stroke-width="1" stroke-linejoin="miter"/>
<path d="M136.09 553.9L142.68 565.3L129.51 565.3Z" fill="none" stroke="#000" stroke-width="1" stroke-linejoin="miter"/>
<path d="M139.59 552.9L146.17 564.3L133 564.3Z" fill="none" stroke="#000" stroke-width="1" stroke-linejoin="miter"/>
<path d="M143.26 552.2L149.84 563.6L136.68 563.6Z" fill="none" stroke="#000" stroke-width="1" stroke-linejoin="miter"/>
<path d="M146.93 551.3L153.51 562.7L140.35 562.7Z" fill="none" stroke="#000" stroke-width="1" stroke-linejoin="miter"/>
<path d="M154.28 549.1L160.86 560.5L147.7 560.5Z" fill="none" stroke="#000" stroke-width="1" stroke-linejoin="miter"/>
<path d="M167.32 547.6L173.91 559L160.74 559Z" fill="none" stroke="#000" stroke-width="1" stroke-linejoin="miter"/>
<path d="M178.53 546.8L185.11 558.2L171.95 558.2Z" fill="none" stroke="#000" stroke-width="1" stroke-linejoin="miter"/>
<path d="M191.39 546.1L197.97 557.5L184.81 557.5Z" fill="none" stroke="#000" stroke-width="1" stroke-linejoin="miter"/>
<path d="M204.61 545.7L211.2 557.1L198.03 557.1Z" fill="none" stroke="#000" stroke-width="1" stroke-linejoin="miter"/>
<path d="M219.31 545.2L225.89 556.6L212.73 556.6Z" fill="none" stroke="#000" stroke-width="1" stroke-linejoin="miter"/>
<path d="M245.21 543.5L251.79 554.9L238.63 554.9Z" fill="none" stroke="#000" stroke-width="1" stroke-linejoin="miter"/>
<path d="M270.93 541.4L277.51 552.8L264.35 552.8Z" fill="none" stroke="#000" stroke-width="1" stroke-linejoin="miter"/>
<path d="M296.83 540L303.41 551.4L290.25 551.4Z" fill="none" stroke="#000" stroke-width="1" stroke-linejoin="miter"/>
<path d="M324.2 538.3L330.79 549.7L317.62 549.7Z" fill="none" stroke="#000" stroke-width="1" stroke-linejoin="miter"/>
<circle cx="132.24" cy="560.4" r="4.85" fill="#fff" stroke="#000" stroke-width="1"/>
<circle cx="136.09" cy="555.9" r="4.85" fill="#fff" stroke="#000" stroke-width="1"/>
<circle cx="139.59" cy="550.7" r="4.85" fill="#fff" stroke="#000" stroke-width="1"/>
<circle cx="143.26" cy="547.8" r="4.85" fill="#fff" stroke="#000" stroke-width="1"/>
<circle cx="146.93" cy="544.1" r="4.85" fill="#fff" stroke="#000" stroke-width="1"/>
<circle cx="154.28" cy="538.9" r="4.85" fill="#fff" stroke="#000" stroke-width="1"/>
<circle cx="167.32" cy="531" r="4.85" fill="#fff" stroke="#000" stroke-width="1"/>
<circle cx="178.53" cy="527" r="4.85" fill="#fff" stroke="#000" stroke-width="1"/>
<circle cx="191.39" cy="523.8" r="4.85" fill="#fff" stroke="#000" stroke-width="1"/>
<circle cx="204.61" cy="520.5" r="4.85" fill="#fff" stroke="#000" stroke-width="1"/>
<circle cx="219.31" cy="517.1" r="4.85" fill="#fff" stroke="#000" stroke-width="1"/>
<circle cx="245.21" cy="512.7" r="4.85" fill="#fff" stroke="#000" stroke-width="1"/>
<circle cx="270.93" cy="509.6" r="4.85" fill="#fff" stroke="#000" stroke-width="1"/>
<circle cx="296.83" cy="507.5" r="4.85" fill="#fff" stroke="#000" stroke-width="1"/>
<circle cx="324.2" cy="505.5" r="4.85" fill="#fff" stroke="#000" stroke-width="1"/>
<circle cx="132.24" cy="558" r="4.85" fill="#c3c3c3" stroke="#000" stroke-width="1"/>
<circle cx="136.09" cy="548.5" r="4.85" fill="#c3c3c3" stroke="#000" stroke-width="1"/>
<circle cx="139.59" cy="541.1" r="4.85" fill="#c3c3c3" stroke="#000" stroke-width="1"/>
<circle cx="143.26" cy="535.2" r="4.85" fill="#c3c3c3" stroke="#000" stroke-width="1"/>
<circle cx="146.93" cy="529.3" r="4.85" fill="#c3c3c3" stroke="#000" stroke-width="1"/>
<circle cx="154.28" cy="520.7" r="4.85" fill="#c3c3c3" stroke="#000" stroke-width="1"/>
<circle cx="167.32" cy="508.8" r="4.85" fill="#c3c3c3" stroke="#000" stroke-width="1"/>
<circle cx="178.53" cy="501.9" r="4.85" fill="#c3c3c3" stroke="#000" stroke-width="1"/>
<circle cx="191.39" cy="497.1" r="4.85" fill="#c3c3c3" stroke="#000" stroke-width="1"/>
<circle cx="204.61" cy="493.3" r="4.85" fill="#c3c3c3" stroke="#000" stroke-width="1"/>
<circle cx="219.31" cy="488.6" r="4.85" fill="#c3c3c3" stroke="#000" stroke-width="1"/>
<circle cx="245.21" cy="482.6" r="4.85" fill="#c3c3c3" stroke="#000" stroke-width="1"/>
<circle cx="270.93" cy="478.1" r="4.85" fill="#c3c3c3" stroke="#000" stroke-width="1"/>
<circle cx="296.83" cy="474.3" r="4.85" fill="#c3c3c3" stroke="#000" stroke-width="1"/>
<circle cx="324.2" cy="470.8" r="4.85" fill="#c3c3c3" stroke="#000" stroke-width="1"/>
<circle cx="132.24" cy="556.2" r="5.35" fill="#000"/>
<circle cx="136.09" cy="542" r="5.35" fill="#000"/>
<circle cx="139.59" cy="529.8" r="5.35" fill="#000"/>
<circle cx="143.26" cy="520" r="5.35" fill="#000"/>
<circle cx="146.93" cy="513.1" r="5.35" fill="#000"/>
<circle cx="154.28" cy="501.8" r="5.35" fill="#000"/>
<circle cx="167.32" cy="487.1" r="5.35" fill="#000"/>
<circle cx="178.53" cy="478" r="5.35" fill="#000"/>
<circle cx="191.39" cy="471.6" r="5.35" fill="#000"/>
<circle cx="204.61" cy="465.2" r="5.35" fill="#000"/>
<circle cx="219.31" cy="459.5" r="5.35" fill="#000"/>
<circle cx="245.21" cy="451.1" r="5.35" fill="#000"/>
<circle cx="270.93" cy="445.2" r="5.35" fill="#000"/>
<circle cx="296.83" cy="440.1" r="5.35" fill="#000"/>
<circle cx="324.2" cy="436.1" r="5.35" fill="#000"/>
<path d="M130.69 561.7H133.79M132.24 561.7V563.3M130.69 563.3H133.79" stroke="#000" stroke-width="1.6" fill="none"/><path d="M132.24 561.7V563.3" stroke="#000" stroke-width="1.9"/>
<path d="M134.54 560.7H137.64M136.09 560.7V562.3M134.54 562.3H137.64" stroke="#000" stroke-width="1.6" fill="none"/><path d="M136.09 560.7V562.3" stroke="#000" stroke-width="1.9"/>
<path d="M138.03 559.7H141.14M139.59 559.7V561.3M138.03 561.3H141.14" stroke="#000" stroke-width="1.6" fill="none"/><path d="M139.59 559.7V561.3" stroke="#000" stroke-width="1.9"/>
<path d="M141.71 559H144.81M143.26 559V560.6M141.71 560.6H144.81" stroke="#000" stroke-width="1.6" fill="none"/><path d="M143.26 559V560.6" stroke="#000" stroke-width="1.9"/>
<path d="M145.38 558.1H148.48M146.93 558.1V559.7M145.38 559.7H148.48" stroke="#000" stroke-width="1.6" fill="none"/><path d="M146.93 558.1V559.7" stroke="#000" stroke-width="1.9"/>
<path d="M152.73 555.9H155.83M154.28 555.9V557.5M152.73 557.5H155.83" stroke="#000" stroke-width="1.6" fill="none"/><path d="M154.28 555.9V557.5" stroke="#000" stroke-width="1.9"/>
<path d="M165.77 554.4H168.87M167.32 554.4V556M165.77 556H168.87" stroke="#000" stroke-width="1.6" fill="none"/><path d="M167.32 554.4V556" stroke="#000" stroke-width="1.9"/>
<path d="M176.98 553.6H180.08M178.53 553.6V555.2M176.98 555.2H180.08" stroke="#000" stroke-width="1.6" fill="none"/><path d="M178.53 553.6V555.2" stroke="#000" stroke-width="1.9"/>
<path d="M189.84 552.9H192.94M191.39 552.9V554.5M189.84 554.5H192.94" stroke="#000" stroke-width="1.6" fill="none"/><path d="M191.39 552.9V554.5" stroke="#000" stroke-width="1.9"/>
<path d="M203.06 552.5H206.16M204.61 552.5V554.1M203.06 554.1H206.16" stroke="#000" stroke-width="1.6" fill="none"/><path d="M204.61 552.5V554.1" stroke="#000" stroke-width="1.9"/>
<path d="M217.76 552H220.86M219.31 552V553.6M217.76 553.6H220.86" stroke="#000" stroke-width="1.6" fill="none"/><path d="M219.31 552V553.6" stroke="#000" stroke-width="1.9"/>
<path d="M243.66 550.3H246.76M245.21 550.3V551.9M243.66 551.9H246.76" stroke="#000" stroke-width="1.6" fill="none"/><path d="M245.21 550.3V551.9" stroke="#000" stroke-width="1.9"/>
<path d="M269.38 548.2H272.48M270.93 548.2V549.8M269.38 549.8H272.48" stroke="#000" stroke-width="1.6" fill="none"/><path d="M270.93 548.2V549.8" stroke="#000" stroke-width="1.9"/>
<path d="M295.28 546.8H298.38M296.83 546.8V548.4M295.28 548.4H298.38" stroke="#000" stroke-width="1.6" fill="none"/><path d="M296.83 546.8V548.4" stroke="#000" stroke-width="1.9"/>
<path d="M322.65 545.1H325.75M324.2 545.1V546.7M322.65 546.7H325.75" stroke="#000" stroke-width="1.6" fill="none"/><path d="M324.2 545.1V546.7" stroke="#000" stroke-width="1.9"/>
<path d="M130.69 559.6H133.79M132.24 559.6V561.2M130.69 561.2H133.79" stroke="#000" stroke-width="1.6" fill="none"/><path d="M132.24 559.6V561.2" stroke="#000" stroke-width="1.9"/>
<path d="M134.54 555.1H137.64M136.09 555.1V556.7M134.54 556.7H137.64" stroke="#000" stroke-width="1.6" fill="none"/><path d="M136.09 555.1V556.7" stroke="#000" stroke-width="1.9"/>
<path d="M138.03 549.9H141.14M139.59 549.9V551.5M138.03 551.5H141.14" stroke="#000" stroke-width="1.6" fill="none"/><path d="M139.59 549.9V551.5" stroke="#000" stroke-width="1.9"/>
<path d="M141.71 547H144.81M143.26 547V548.6M141.71 548.6H144.81" stroke="#000" stroke-width="1.6" fill="none"/><path d="M143.26 547V548.6" stroke="#000" stroke-width="1.9"/>
<path d="M145.38 543.3H148.48M146.93 543.3V544.9M145.38 544.9H148.48" stroke="#000" stroke-width="1.6" fill="none"/><path d="M146.93 543.3V544.9" stroke="#000" stroke-width="1.9"/>
<path d="M152.73 538H155.83M154.28 538V539.8M152.73 539.8H155.83" stroke="#000" stroke-width="1.6" fill="none"/><path d="M154.28 538V539.8" stroke="#000" stroke-width="1.9"/>
<path d="M165.77 530H168.87M167.32 530V532M165.77 532H168.87" stroke="#000" stroke-width="1.6" fill="none"/><path d="M167.32 530V532" stroke="#000" stroke-width="1.9"/>
<path d="M176.98 525.8H180.08M178.53 525.8V528.2M176.98 528.2H180.08" stroke="#000" stroke-width="1.6" fill="none"/><path d="M178.53 525.8V528.2" stroke="#000" stroke-width="1.9"/>
<path d="M189.84 521.8H192.94M191.39 521.8V525.8M189.84 525.8H192.94" stroke="#000" stroke-width="1.6" fill="none"/><path d="M191.39 521.8V525.8" stroke="#000" stroke-width="1.9"/>
<path d="M203.06 518.3H206.16M204.61 518.3V522.7M203.06 522.7H206.16" stroke="#000" stroke-width="1.6" fill="none"/><path d="M204.61 518.3V522.7" stroke="#000" stroke-width="1.9"/>
<path d="M217.76 514.9H220.86M219.31 514.9V519.3M217.76 519.3H220.86" stroke="#000" stroke-width="1.6" fill="none"/><path d="M219.31 514.9V519.3" stroke="#000" stroke-width="1.9"/>
<path d="M243.66 510.5H246.76M245.21 510.5V514.9M243.66 514.9H246.76" stroke="#000" stroke-width="1.6" fill="none"/><path d="M245.21 510.5V514.9" stroke="#000" stroke-width="1.9"/>
<path d="M269.38 507.4H272.48M270.93 507.4V511.8M269.38 511.8H272.48" stroke="#000" stroke-width="1.6" fill="none"/><path d="M270.93 507.4V511.8" stroke="#000" stroke-width="1.9"/>
<path d="M295.28 505.3H298.38M296.83 505.3V509.7M295.28 509.7H298.38" stroke="#000" stroke-width="1.6" fill="none"/><path d="M296.83 505.3V509.7" stroke="#000" stroke-width="1.9"/>
<path d="M322.65 503.3H325.75M324.2 503.3V507.7M322.65 507.7H325.75" stroke="#000" stroke-width="1.6" fill="none"/><path d="M324.2 503.3V507.7" stroke="#000" stroke-width="1.9"/>
<path d="M130.69 557H133.79M132.24 557V559M130.69 559H133.79" stroke="#000" stroke-width="1.6" fill="none"/><path d="M132.24 557V559" stroke="#000" stroke-width="1.9"/>
<path d="M134.54 547.5H137.64M136.09 547.5V549.5M134.54 549.5H137.64" stroke="#000" stroke-width="1.6" fill="none"/><path d="M136.09 547.5V549.5" stroke="#000" stroke-width="1.9"/>
<path d="M138.03 540.1H141.14M139.59 540.1V542.1M138.03 542.1H141.14" stroke="#000" stroke-width="1.6" fill="none"/><path d="M139.59 540.1V542.1" stroke="#000" stroke-width="1.9"/>
<path d="M141.71 534.2H144.81M143.26 534.2V536.2M141.71 536.2H144.81" stroke="#000" stroke-width="1.6" fill="none"/><path d="M143.26 534.2V536.2" stroke="#000" stroke-width="1.9"/>
<path d="M145.38 528.3H148.48M146.93 528.3V530.3M145.38 530.3H148.48" stroke="#000" stroke-width="1.6" fill="none"/><path d="M146.93 528.3V530.3" stroke="#000" stroke-width="1.9"/>
<path d="M152.73 519.7H155.83M154.28 519.7V521.7M152.73 521.7H155.83" stroke="#000" stroke-width="1.6" fill="none"/><path d="M154.28 519.7V521.7" stroke="#000" stroke-width="1.9"/>
<path d="M165.77 507.8H168.87M167.32 507.8V509.8M165.77 509.8H168.87" stroke="#000" stroke-width="1.6" fill="none"/><path d="M167.32 507.8V509.8" stroke="#000" stroke-width="1.9"/>
<path d="M176.98 500.7H180.08M178.53 500.7V503.1M176.98 503.1H180.08" stroke="#000" stroke-width="1.6" fill="none"/><path d="M178.53 500.7V503.1" stroke="#000" stroke-width="1.9"/>
<path d="M189.84 495.1H192.94M191.39 495.1V499.1M189.84 499.1H192.94" stroke="#000" stroke-width="1.6" fill="none"/><path d="M191.39 495.1V499.1" stroke="#000" stroke-width="1.9"/>
<path d="M203.06 491.1H206.16M204.61 491.1V495.5M203.06 495.5H206.16" stroke="#000" stroke-width="1.6" fill="none"/><path d="M204.61 491.1V495.5" stroke="#000" stroke-width="1.9"/>
<path d="M217.76 486.4H220.86M219.31 486.4V490.8M217.76 490.8H220.86" stroke="#000" stroke-width="1.6" fill="none"/><path d="M219.31 486.4V490.8" stroke="#000" stroke-width="1.9"/>
<path d="M243.66 480.4H246.76M245.21 480.4V484.8M243.66 484.8H246.76" stroke="#000" stroke-width="1.6" fill="none"/><path d="M245.21 480.4V484.8" stroke="#000" stroke-width="1.9"/>
<path d="M269.38 475.9H272.48M270.93 475.9V480.3M269.38 480.3H272.48" stroke="#000" stroke-width="1.6" fill="none"/><path d="M270.93 475.9V480.3" stroke="#000" stroke-width="1.9"/>
<path d="M295.28 472.1H298.38M296.83 472.1V476.5M295.28 476.5H298.38" stroke="#000" stroke-width="1.6" fill="none"/><path d="M296.83 472.1V476.5" stroke="#000" stroke-width="1.9"/>
<path d="M322.65 468.6H325.75M324.2 468.6V473M322.65 473H325.75" stroke="#000" stroke-width="1.6" fill="none"/><path d="M324.2 468.6V473" stroke="#000" stroke-width="1.9"/>
<path d="M130.69 554.7H133.79M132.24 554.7V557.7M130.69 557.7H133.79" stroke="#000" stroke-width="1.6" fill="none"/><path d="M132.24 554.7V557.7" stroke="#000" stroke-width="1.9"/>
<path d="M134.54 540.5H137.64M136.09 540.5V543.5M134.54 543.5H137.64" stroke="#000" stroke-width="1.6" fill="none"/><path d="M136.09 540.5V543.5" stroke="#000" stroke-width="1.9"/>
<path d="M138.03 528.3H141.14M139.59 528.3V531.3M138.03 531.3H141.14" stroke="#000" stroke-width="1.6" fill="none"/><path d="M139.59 528.3V531.3" stroke="#000" stroke-width="1.9"/>
<path d="M141.71 518.5H144.81M143.26 518.5V521.5M141.71 521.5H144.81" stroke="#000" stroke-width="1.6" fill="none"/><path d="M143.26 518.5V521.5" stroke="#000" stroke-width="1.9"/>
<path d="M145.38 511.6H148.48M146.93 511.6V514.6M145.38 514.6H148.48" stroke="#000" stroke-width="1.6" fill="none"/><path d="M146.93 511.6V514.6" stroke="#000" stroke-width="1.9"/>
<path d="M152.73 500.3H155.83M154.28 500.3V503.3M152.73 503.3H155.83" stroke="#000" stroke-width="1.6" fill="none"/><path d="M154.28 500.3V503.3" stroke="#000" stroke-width="1.9"/>
<path d="M165.77 485.6H168.87M167.32 485.6V488.6M165.77 488.6H168.87" stroke="#000" stroke-width="1.6" fill="none"/><path d="M167.32 485.6V488.6" stroke="#000" stroke-width="1.9"/>
<path d="M176.98 476.5H180.08M178.53 476.5V479.5M176.98 479.5H180.08" stroke="#000" stroke-width="1.6" fill="none"/><path d="M178.53 476.5V479.5" stroke="#000" stroke-width="1.9"/>
<path d="M189.84 470.1H192.94M191.39 470.1V473.1M189.84 473.1H192.94" stroke="#000" stroke-width="1.6" fill="none"/><path d="M191.39 470.1V473.1" stroke="#000" stroke-width="1.9"/>
<path d="M203.06 463.7H206.16M204.61 463.7V466.7M203.06 466.7H206.16" stroke="#000" stroke-width="1.6" fill="none"/><path d="M204.61 463.7V466.7" stroke="#000" stroke-width="1.9"/>
<path d="M217.76 458H220.86M219.31 458V461M217.76 461H220.86" stroke="#000" stroke-width="1.6" fill="none"/><path d="M219.31 458V461" stroke="#000" stroke-width="1.9"/>
<path d="M243.66 449.6H246.76M245.21 449.6V452.6M243.66 452.6H246.76" stroke="#000" stroke-width="1.6" fill="none"/><path d="M245.21 449.6V452.6" stroke="#000" stroke-width="1.9"/>
<path d="M269.38 443.7H272.48M270.93 443.7V446.7M269.38 446.7H272.48" stroke="#000" stroke-width="1.6" fill="none"/><path d="M270.93 443.7V446.7" stroke="#000" stroke-width="1.9"/>
<path d="M295.28 438.6H298.38M296.83 438.6V441.6M295.28 441.6H298.38" stroke="#000" stroke-width="1.6" fill="none"/><path d="M296.83 438.6V441.6" stroke="#000" stroke-width="1.9"/>
<path d="M322.65 434.6H325.75M324.2 434.6V437.6M322.65 437.6H325.75" stroke="#000" stroke-width="1.6" fill="none"/><path d="M324.2 434.6V437.6" stroke="#000" stroke-width="1.9"/>
</g>
<g clip-path="url(#ccR)">
<polyline points="382.04,560 385.91,553 389.41,547 393.1,543 396.79,539.4 404.16,533.7 417.24,527.8 428.49,525.1 441.39,522.3 454.66,520.7 469.4,518.3 495.39,513.7 521.19,511.2 547.18,508.4 574.64,506.8" fill="none" stroke="#000" stroke-width="1.15" stroke-linejoin="round"/>
<polyline points="382.04,559.5 385.91,547.6 389.41,540 393.1,533.4 396.79,525.4 404.16,516 417.24,505.7 428.49,499.8 441.39,495.4 454.66,492.5 469.4,489.3 495.39,484.3 521.19,480.2 547.18,476.3 574.64,474" fill="none" stroke="#000" stroke-width="1.15" stroke-linejoin="round"/>
<polyline points="382.04,556.3 385.91,541.3 389.41,528.6 393.1,517.5 396.79,508 404.16,494.6 417.24,480.3 428.49,472.9 441.39,466.9 454.66,462.6 469.4,457.4 495.39,449.9 521.19,444.1 547.18,439.5 574.64,435.6" fill="none" stroke="#000" stroke-width="1.15" stroke-linejoin="round"/>
<circle cx="382.04" cy="560" r="4.85" fill="#fff" stroke="#000" stroke-width="1"/>
<circle cx="385.91" cy="553" r="4.85" fill="#fff" stroke="#000" stroke-width="1"/>
<circle cx="389.41" cy="547" r="4.85" fill="#fff" stroke="#000" stroke-width="1"/>
<circle cx="393.1" cy="543" r="4.85" fill="#fff" stroke="#000" stroke-width="1"/>
<circle cx="396.79" cy="539.4" r="4.85" fill="#fff" stroke="#000" stroke-width="1"/>
<circle cx="404.16" cy="533.7" r="4.85" fill="#fff" stroke="#000" stroke-width="1"/>
<circle cx="417.24" cy="527.8" r="4.85" fill="#fff" stroke="#000" stroke-width="1"/>
<circle cx="428.49" cy="525.1" r="4.85" fill="#fff" stroke="#000" stroke-width="1"/>
<circle cx="441.39" cy="522.3" r="4.85" fill="#fff" stroke="#000" stroke-width="1"/>
<circle cx="454.66" cy="520.7" r="4.85" fill="#fff" stroke="#000" stroke-width="1"/>
<circle cx="469.4" cy="518.3" r="4.85" fill="#fff" stroke="#000" stroke-width="1"/>
<circle cx="495.39" cy="513.7" r="4.85" fill="#fff" stroke="#000" stroke-width="1"/>
<circle cx="521.19" cy="511.2" r="4.85" fill="#fff" stroke="#000" stroke-width="1"/>
<circle cx="547.18" cy="508.4" r="4.85" fill="#fff" stroke="#000" stroke-width="1"/>
<circle cx="574.64" cy="506.8" r="4.85" fill="#fff" stroke="#000" stroke-width="1"/>
<circle cx="382.04" cy="559.5" r="4.85" fill="#c3c3c3" stroke="#000" stroke-width="1"/>
<circle cx="385.91" cy="547.6" r="4.85" fill="#c3c3c3" stroke="#000" stroke-width="1"/>
<circle cx="389.41" cy="540" r="4.85" fill="#c3c3c3" stroke="#000" stroke-width="1"/>
<circle cx="393.1" cy="533.4" r="4.85" fill="#c3c3c3" stroke="#000" stroke-width="1"/>
<circle cx="396.79" cy="525.4" r="4.85" fill="#c3c3c3" stroke="#000" stroke-width="1"/>
<circle cx="404.16" cy="516" r="4.85" fill="#c3c3c3" stroke="#000" stroke-width="1"/>
<circle cx="417.24" cy="505.7" r="4.85" fill="#c3c3c3" stroke="#000" stroke-width="1"/>
<circle cx="428.49" cy="499.8" r="4.85" fill="#c3c3c3" stroke="#000" stroke-width="1"/>
<circle cx="441.39" cy="495.4" r="4.85" fill="#c3c3c3" stroke="#000" stroke-width="1"/>
<circle cx="454.66" cy="492.5" r="4.85" fill="#c3c3c3" stroke="#000" stroke-width="1"/>
<circle cx="469.4" cy="489.3" r="4.85" fill="#c3c3c3" stroke="#000" stroke-width="1"/>
<circle cx="495.39" cy="484.3" r="4.85" fill="#c3c3c3" stroke="#000" stroke-width="1"/>
<circle cx="521.19" cy="480.2" r="4.85" fill="#c3c3c3" stroke="#000" stroke-width="1"/>
<circle cx="547.18" cy="476.3" r="4.85" fill="#c3c3c3" stroke="#000" stroke-width="1"/>
<circle cx="574.64" cy="474" r="4.85" fill="#c3c3c3" stroke="#000" stroke-width="1"/>
<circle cx="382.04" cy="556.3" r="5.35" fill="#000"/>
<circle cx="385.91" cy="541.3" r="5.35" fill="#000"/>
<circle cx="389.41" cy="528.6" r="5.35" fill="#000"/>
<circle cx="393.1" cy="517.5" r="5.35" fill="#000"/>
<circle cx="396.79" cy="508" r="5.35" fill="#000"/>
<circle cx="404.16" cy="494.6" r="5.35" fill="#000"/>
<circle cx="417.24" cy="480.3" r="5.35" fill="#000"/>
<circle cx="428.49" cy="472.9" r="5.35" fill="#000"/>
<circle cx="441.39" cy="466.9" r="5.35" fill="#000"/>
<circle cx="454.66" cy="462.6" r="5.35" fill="#000"/>
<circle cx="469.4" cy="457.4" r="5.35" fill="#000"/>
<circle cx="495.39" cy="449.9" r="5.35" fill="#000"/>
<circle cx="521.19" cy="444.1" r="5.35" fill="#000"/>
<circle cx="547.18" cy="439.5" r="5.35" fill="#000"/>
<circle cx="574.64" cy="435.6" r="5.35" fill="#000"/>
<path d="M380.49 559.2H383.59M382.04 559.2V560.8M380.49 560.8H383.59" stroke="#000" stroke-width="1.6" fill="none"/><path d="M382.04 559.2V560.8" stroke="#000" stroke-width="1.9"/>
<path d="M384.36 552.2H387.46M385.91 552.2V553.8M384.36 553.8H387.46" stroke="#000" stroke-width="1.6" fill="none"/><path d="M385.91 552.2V553.8" stroke="#000" stroke-width="1.9"/>
<path d="M387.86 546.2H390.96M389.41 546.2V547.8M387.86 547.8H390.96" stroke="#000" stroke-width="1.6" fill="none"/><path d="M389.41 546.2V547.8" stroke="#000" stroke-width="1.9"/>
<path d="M391.55 542.2H394.65M393.1 542.2V543.8M391.55 543.8H394.65" stroke="#000" stroke-width="1.6" fill="none"/><path d="M393.1 542.2V543.8" stroke="#000" stroke-width="1.9"/>
<path d="M395.24 538.6H398.34M396.79 538.6V540.2M395.24 540.2H398.34" stroke="#000" stroke-width="1.6" fill="none"/><path d="M396.79 538.6V540.2" stroke="#000" stroke-width="1.9"/>
<path d="M402.61 532.9H405.71M404.16 532.9V534.5M402.61 534.5H405.71" stroke="#000" stroke-width="1.6" fill="none"/><path d="M404.16 532.9V534.5" stroke="#000" stroke-width="1.9"/>
<path d="M415.69 527H418.79M417.24 527V528.6M415.69 528.6H418.79" stroke="#000" stroke-width="1.6" fill="none"/><path d="M417.24 527V528.6" stroke="#000" stroke-width="1.9"/>
<path d="M426.94 524.3H430.04M428.49 524.3V525.9M426.94 525.9H430.04" stroke="#000" stroke-width="1.6" fill="none"/><path d="M428.49 524.3V525.9" stroke="#000" stroke-width="1.9"/>
<path d="M439.84 521.5H442.94M441.39 521.5V523.1M439.84 523.1H442.94" stroke="#000" stroke-width="1.6" fill="none"/><path d="M441.39 521.5V523.1" stroke="#000" stroke-width="1.9"/>
<path d="M453.11 519.9H456.21M454.66 519.9V521.5M453.11 521.5H456.21" stroke="#000" stroke-width="1.6" fill="none"/><path d="M454.66 519.9V521.5" stroke="#000" stroke-width="1.9"/>
<path d="M467.85 517.5H470.95M469.4 517.5V519.1M467.85 519.1H470.95" stroke="#000" stroke-width="1.6" fill="none"/><path d="M469.4 517.5V519.1" stroke="#000" stroke-width="1.9"/>
<path d="M493.84 512.9H496.94M495.39 512.9V514.5M493.84 514.5H496.94" stroke="#000" stroke-width="1.6" fill="none"/><path d="M495.39 512.9V514.5" stroke="#000" stroke-width="1.9"/>
<path d="M519.64 510.4H522.74M521.19 510.4V512M519.64 512H522.74" stroke="#000" stroke-width="1.6" fill="none"/><path d="M521.19 510.4V512" stroke="#000" stroke-width="1.9"/>
<path d="M545.63 507.6H548.73M547.18 507.6V509.2M545.63 509.2H548.73" stroke="#000" stroke-width="1.6" fill="none"/><path d="M547.18 507.6V509.2" stroke="#000" stroke-width="1.9"/>
<path d="M573.09 506H576.19M574.64 506V507.6M573.09 507.6H576.19" stroke="#000" stroke-width="1.6" fill="none"/><path d="M574.64 506V507.6" stroke="#000" stroke-width="1.9"/>
<path d="M380.49 557.8H383.59M382.04 557.8V561.2M380.49 561.2H383.59" stroke="#000" stroke-width="1.6" fill="none"/><path d="M382.04 557.8V561.2" stroke="#000" stroke-width="1.9"/>
<path d="M384.36 545.9H387.46M385.91 545.9V549.3M384.36 549.3H387.46" stroke="#000" stroke-width="1.6" fill="none"/><path d="M385.91 545.9V549.3" stroke="#000" stroke-width="1.9"/>
<path d="M387.86 538.3H390.96M389.41 538.3V541.7M387.86 541.7H390.96" stroke="#000" stroke-width="1.6" fill="none"/><path d="M389.41 538.3V541.7" stroke="#000" stroke-width="1.9"/>
<path d="M391.55 531.7H394.65M393.1 531.7V535.1M391.55 535.1H394.65" stroke="#000" stroke-width="1.6" fill="none"/><path d="M393.1 531.7V535.1" stroke="#000" stroke-width="1.9"/>
<path d="M395.24 523.7H398.34M396.79 523.7V527.1M395.24 527.1H398.34" stroke="#000" stroke-width="1.6" fill="none"/><path d="M396.79 523.7V527.1" stroke="#000" stroke-width="1.9"/>
<path d="M402.61 514.3H405.71M404.16 514.3V517.7M402.61 517.7H405.71" stroke="#000" stroke-width="1.6" fill="none"/><path d="M404.16 514.3V517.7" stroke="#000" stroke-width="1.9"/>
<path d="M415.69 504H418.79M417.24 504V507.4M415.69 507.4H418.79" stroke="#000" stroke-width="1.6" fill="none"/><path d="M417.24 504V507.4" stroke="#000" stroke-width="1.9"/>
<path d="M426.94 498.1H430.04M428.49 498.1V501.5M426.94 501.5H430.04" stroke="#000" stroke-width="1.6" fill="none"/><path d="M428.49 498.1V501.5" stroke="#000" stroke-width="1.9"/>
<path d="M439.84 493.7H442.94M441.39 493.7V497.1M439.84 497.1H442.94" stroke="#000" stroke-width="1.6" fill="none"/><path d="M441.39 493.7V497.1" stroke="#000" stroke-width="1.9"/>
<path d="M453.11 490.8H456.21M454.66 490.8V494.2M453.11 494.2H456.21" stroke="#000" stroke-width="1.6" fill="none"/><path d="M454.66 490.8V494.2" stroke="#000" stroke-width="1.9"/>
<path d="M467.85 487.6H470.95M469.4 487.6V491M467.85 491H470.95" stroke="#000" stroke-width="1.6" fill="none"/><path d="M469.4 487.6V491" stroke="#000" stroke-width="1.9"/>
<path d="M493.84 482.6H496.94M495.39 482.6V486M493.84 486H496.94" stroke="#000" stroke-width="1.6" fill="none"/><path d="M495.39 482.6V486" stroke="#000" stroke-width="1.9"/>
<path d="M519.64 478.5H522.74M521.19 478.5V481.9M519.64 481.9H522.74" stroke="#000" stroke-width="1.6" fill="none"/><path d="M521.19 478.5V481.9" stroke="#000" stroke-width="1.9"/>
<path d="M545.63 474.6H548.73M547.18 474.6V478M545.63 478H548.73" stroke="#000" stroke-width="1.6" fill="none"/><path d="M547.18 474.6V478" stroke="#000" stroke-width="1.9"/>
<path d="M573.09 472.3H576.19M574.64 472.3V475.7M573.09 475.7H576.19" stroke="#000" stroke-width="1.6" fill="none"/><path d="M574.64 472.3V475.7" stroke="#000" stroke-width="1.9"/>
<path d="M380.49 554.8H383.59M382.04 554.8V557.8M380.49 557.8H383.59" stroke="#000" stroke-width="1.6" fill="none"/><path d="M382.04 554.8V557.8" stroke="#000" stroke-width="1.9"/>
<path d="M384.36 539.8H387.46M385.91 539.8V542.8M384.36 542.8H387.46" stroke="#000" stroke-width="1.6" fill="none"/><path d="M385.91 539.8V542.8" stroke="#000" stroke-width="1.9"/>
<path d="M387.86 527.1H390.96M389.41 527.1V530.1M387.86 530.1H390.96" stroke="#000" stroke-width="1.6" fill="none"/><path d="M389.41 527.1V530.1" stroke="#000" stroke-width="1.9"/>
<path d="M391.55 516H394.65M393.1 516V519M391.55 519H394.65" stroke="#000" stroke-width="1.6" fill="none"/><path d="M393.1 516V519" stroke="#000" stroke-width="1.9"/>
<path d="M395.24 506.5H398.34M396.79 506.5V509.5M395.24 509.5H398.34" stroke="#000" stroke-width="1.6" fill="none"/><path d="M396.79 506.5V509.5" stroke="#000" stroke-width="1.9"/>
<path d="M402.61 493.1H405.71M404.16 493.1V496.1M402.61 496.1H405.71" stroke="#000" stroke-width="1.6" fill="none"/><path d="M404.16 493.1V496.1" stroke="#000" stroke-width="1.9"/>
<path d="M415.69 478.8H418.79M417.24 478.8V481.8M415.69 481.8H418.79" stroke="#000" stroke-width="1.6" fill="none"/><path d="M417.24 478.8V481.8" stroke="#000" stroke-width="1.9"/>
<path d="M426.94 471.4H430.04M428.49 471.4V474.4M426.94 474.4H430.04" stroke="#000" stroke-width="1.6" fill="none"/><path d="M428.49 471.4V474.4" stroke="#000" stroke-width="1.9"/>
<path d="M439.84 465.4H442.94M441.39 465.4V468.4M439.84 468.4H442.94" stroke="#000" stroke-width="1.6" fill="none"/><path d="M441.39 465.4V468.4" stroke="#000" stroke-width="1.9"/>
<path d="M453.11 461.1H456.21M454.66 461.1V464.1M453.11 464.1H456.21" stroke="#000" stroke-width="1.6" fill="none"/><path d="M454.66 461.1V464.1" stroke="#000" stroke-width="1.9"/>
<path d="M467.85 455.9H470.95M469.4 455.9V458.9M467.85 458.9H470.95" stroke="#000" stroke-width="1.6" fill="none"/><path d="M469.4 455.9V458.9" stroke="#000" stroke-width="1.9"/>
<path d="M493.84 448.4H496.94M495.39 448.4V451.4M493.84 451.4H496.94" stroke="#000" stroke-width="1.6" fill="none"/><path d="M495.39 448.4V451.4" stroke="#000" stroke-width="1.9"/>
<path d="M519.64 442.6H522.74M521.19 442.6V445.6M519.64 445.6H522.74" stroke="#000" stroke-width="1.6" fill="none"/><path d="M521.19 442.6V445.6" stroke="#000" stroke-width="1.9"/>
<path d="M545.63 438H548.73M547.18 438V441M545.63 441H548.73" stroke="#000" stroke-width="1.6" fill="none"/><path d="M547.18 438V441" stroke="#000" stroke-width="1.9"/>
<path d="M573.09 434.1H576.19M574.64 434.1V437.1M573.09 437.1H576.19" stroke="#000" stroke-width="1.6" fill="none"/><path d="M574.64 434.1V437.1" stroke="#000" stroke-width="1.9"/>
</g>
<g clip-path="url(#cdL)">
<polyline points="132.24,749.5 136.09,746.5 139.59,744.5 143.26,742.5 146.93,741 154.28,737.4 167.32,732.6 178.53,728.9 191.39,726.1 204.61,723 219.31,719.7 245.21,713.8 270.93,708.9 296.83,703.7 324.2,699.5" fill="none" stroke="#000" stroke-width="1.15" stroke-linejoin="round"/>
<polyline points="132.24,747 136.09,735 139.59,727 143.26,720.7 146.93,714.7 154.28,704.5 167.32,689.1 178.53,680.6 191.39,674.3 204.61,668.5 219.31,662 245.21,654.3 270.93,648.1 296.83,643.9 324.2,641.4" fill="none" stroke="#000" stroke-width="1.15" stroke-linejoin="round"/>
<polyline points="132.24,745 136.09,731 139.59,719.5 143.26,712.2 146.93,701.9 154.28,690 167.32,673.8 178.53,663.9 191.39,656.7 204.61,651.7 219.31,645.3 245.21,635.6 270.93,629.8 296.83,624.2 324.2,620.1" fill="none" stroke="#000" stroke-width="1.15" stroke-linejoin="round"/>
<polyline points="132.24,742.5 136.09,726.7 139.59,713 143.26,702.3 146.93,693.7 154.28,681.4 167.32,665.2 178.53,655 191.39,647.3 204.61,640.8 219.31,632.6 245.21,619.7 270.93,612.4 296.83,607 324.2,602.4" fill="none" stroke="#000" stroke-width="1.15" stroke-linejoin="round"/>
<path d="M132.24 741.9L138.82 753.3L125.66 753.3Z" fill="none" stroke="#000" stroke-width="1" stroke-linejoin="miter"/>
<path d="M136.09 738.9L142.68 750.3L129.51 750.3Z" fill="none" stroke="#000" stroke-width="1" stroke-linejoin="miter"/>
<path d="M139.59 736.9L146.17 748.3L133 748.3Z" fill="none" stroke="#000" stroke-width="1" stroke-linejoin="miter"/>
<path d="M143.26 734.9L149.84 746.3L136.68 746.3Z" fill="none" stroke="#000" stroke-width="1" stroke-linejoin="miter"/>
<path d="M146.93 733.4L153.51 744.8L140.35 744.8Z" fill="none" stroke="#000" stroke-width="1" stroke-linejoin="miter"/>
<path d="M154.28 729.8L160.86 741.2L147.7 741.2Z" fill="none" stroke="#000" stroke-width="1" stroke-linejoin="miter"/>
<path d="M167.32 725L173.91 736.4L160.74 736.4Z" fill="none" stroke="#000" stroke-width="1" stroke-linejoin="miter"/>
<path d="M178.53 721.3L185.11 732.7L171.95 732.7Z" fill="none" stroke="#000" stroke-width="1" stroke-linejoin="miter"/>
<path d="M191.39 718.5L197.97 729.9L184.81 729.9Z" fill="none" stroke="#000" stroke-width="1" stroke-linejoin="miter"/>
<path d="M204.61 715.4L211.2 726.8L198.03 726.8Z" fill="none" stroke="#000" stroke-width="1" stroke-linejoin="miter"/>
<path d="M219.31 712.1L225.89 723.5L212.73 723.5Z" fill="none" stroke="#000" stroke-width="1" stroke-linejoin="miter"/>
<path d="M245.21 706.2L251.79 717.6L238.63 717.6Z" fill="none" stroke="#000" stroke-width="1" stroke-linejoin="miter"/>
<path d="M270.93 701.3L277.51 712.7L264.35 712.7Z" fill="none" stroke="#000" stroke-width="1" stroke-linejoin="miter"/>
<path d="M296.83 696.1L303.41 707.5L290.25 707.5Z" fill="none" stroke="#000" stroke-width="1" stroke-linejoin="miter"/>
<path d="M324.2 691.9L330.79 703.3L317.62 703.3Z" fill="none" stroke="#000" stroke-width="1" stroke-linejoin="miter"/>
<circle cx="132.24" cy="747" r="4.85" fill="#fff" stroke="#000" stroke-width="1"/>
<circle cx="136.09" cy="735" r="4.85" fill="#fff" stroke="#000" stroke-width="1"/>
<circle cx="139.59" cy="727" r="4.85" fill="#fff" stroke="#000" stroke-width="1"/>
<circle cx="143.26" cy="720.7" r="4.85" fill="#fff" stroke="#000" stroke-width="1"/>
<circle cx="146.93" cy="714.7" r="4.85" fill="#fff" stroke="#000" stroke-width="1"/>
<circle cx="154.28" cy="704.5" r="4.85" fill="#fff" stroke="#000" stroke-width="1"/>
<circle cx="167.32" cy="689.1" r="4.85" fill="#fff" stroke="#000" stroke-width="1"/>
<circle cx="178.53" cy="680.6" r="4.85" fill="#fff" stroke="#000" stroke-width="1"/>
<circle cx="191.39" cy="674.3" r="4.85" fill="#fff" stroke="#000" stroke-width="1"/>
<circle cx="204.61" cy="668.5" r="4.85" fill="#fff" stroke="#000" stroke-width="1"/>
<circle cx="219.31" cy="662" r="4.85" fill="#fff" stroke="#000" stroke-width="1"/>
<circle cx="245.21" cy="654.3" r="4.85" fill="#fff" stroke="#000" stroke-width="1"/>
<circle cx="270.93" cy="648.1" r="4.85" fill="#fff" stroke="#000" stroke-width="1"/>
<circle cx="296.83" cy="643.9" r="4.85" fill="#fff" stroke="#000" stroke-width="1"/>
<circle cx="324.2" cy="641.4" r="4.85" fill="#fff" stroke="#000" stroke-width="1"/>
<circle cx="132.24" cy="745" r="4.85" fill="#c3c3c3" stroke="#000" stroke-width="1"/>
<circle cx="136.09" cy="731" r="4.85" fill="#c3c3c3" stroke="#000" stroke-width="1"/>
<circle cx="139.59" cy="719.5" r="4.85" fill="#c3c3c3" stroke="#000" stroke-width="1"/>
<circle cx="143.26" cy="712.2" r="4.85" fill="#c3c3c3" stroke="#000" stroke-width="1"/>
<circle cx="146.93" cy="701.9" r="4.85" fill="#c3c3c3" stroke="#000" stroke-width="1"/>
<circle cx="154.28" cy="690" r="4.85" fill="#c3c3c3" stroke="#000" stroke-width="1"/>
<circle cx="167.32" cy="673.8" r="4.85" fill="#c3c3c3" stroke="#000" stroke-width="1"/>
<circle cx="178.53" cy="663.9" r="4.85" fill="#c3c3c3" stroke="#000" stroke-width="1"/>
<circle cx="191.39" cy="656.7" r="4.85" fill="#c3c3c3" stroke="#000" stroke-width="1"/>
<circle cx="204.61" cy="651.7" r="4.85" fill="#c3c3c3" stroke="#000" stroke-width="1"/>
<circle cx="219.31" cy="645.3" r="4.85" fill="#c3c3c3" stroke="#000" stroke-width="1"/>
<circle cx="245.21" cy="635.6" r="4.85" fill="#c3c3c3" stroke="#000" stroke-width="1"/>
<circle cx="270.93" cy="629.8" r="4.85" fill="#c3c3c3" stroke="#000" stroke-width="1"/>
<circle cx="296.83" cy="624.2" r="4.85" fill="#c3c3c3" stroke="#000" stroke-width="1"/>
<circle cx="324.2" cy="620.1" r="4.85" fill="#c3c3c3" stroke="#000" stroke-width="1"/>
<circle cx="132.24" cy="742.5" r="5.35" fill="#000"/>
<circle cx="136.09" cy="726.7" r="5.35" fill="#000"/>
<circle cx="139.59" cy="713" r="5.35" fill="#000"/>
<circle cx="143.26" cy="702.3" r="5.35" fill="#000"/>
<circle cx="146.93" cy="693.7" r="5.35" fill="#000"/>
<circle cx="154.28" cy="681.4" r="5.35" fill="#000"/>
<circle cx="167.32" cy="665.2" r="5.35" fill="#000"/>
<circle cx="178.53" cy="655" r="5.35" fill="#000"/>
<circle cx="191.39" cy="647.3" r="5.35" fill="#000"/>
<circle cx="204.61" cy="640.8" r="5.35" fill="#000"/>
<circle cx="219.31" cy="632.6" r="5.35" fill="#000"/>
<circle cx="245.21" cy="619.7" r="5.35" fill="#000"/>
<circle cx="270.93" cy="612.4" r="5.35" fill="#000"/>
<circle cx="296.83" cy="607" r="5.35" fill="#000"/>
<circle cx="324.2" cy="602.4" r="5.35" fill="#000"/>
<path d="M130.69 748.7H133.79M132.24 748.7V750.3M130.69 750.3H133.79" stroke="#000" stroke-width="1.6" fill="none"/><path d="M132.24 748.7V750.3" stroke="#000" stroke-width="1.9"/>
<path d="M134.54 745.7H137.64M136.09 745.7V747.3M134.54 747.3H137.64" stroke="#000" stroke-width="1.6" fill="none"/><path d="M136.09 745.7V747.3" stroke="#000" stroke-width="1.9"/>
<path d="M138.03 743.7H141.14M139.59 743.7V745.3M138.03 745.3H141.14" stroke="#000" stroke-width="1.6" fill="none"/><path d="M139.59 743.7V745.3" stroke="#000" stroke-width="1.9"/>
<path d="M141.71 741.7H144.81M143.26 741.7V743.3M141.71 743.3H144.81" stroke="#000" stroke-width="1.6" fill="none"/><path d="M143.26 741.7V743.3" stroke="#000" stroke-width="1.9"/>
<path d="M145.38 740.2H148.48M146.93 740.2V741.8M145.38 741.8H148.48" stroke="#000" stroke-width="1.6" fill="none"/><path d="M146.93 740.2V741.8" stroke="#000" stroke-width="1.9"/>
<path d="M152.73 736.6H155.83M154.28 736.6V738.2M152.73 738.2H155.83" stroke="#000" stroke-width="1.6" fill="none"/><path d="M154.28 736.6V738.2" stroke="#000" stroke-width="1.9"/>
<path d="M165.77 731.8H168.87M167.32 731.8V733.4M165.77 733.4H168.87" stroke="#000" stroke-width="1.6" fill="none"/><path d="M167.32 731.8V733.4" stroke="#000" stroke-width="1.9"/>
<path d="M176.98 728.1H180.08M178.53 728.1V729.7M176.98 729.7H180.08" stroke="#000" stroke-width="1.6" fill="none"/><path d="M178.53 728.1V729.7" stroke="#000" stroke-width="1.9"/>
<path d="M189.84 725.3H192.94M191.39 725.3V726.9M189.84 726.9H192.94" stroke="#000" stroke-width="1.6" fill="none"/><path d="M191.39 725.3V726.9" stroke="#000" stroke-width="1.9"/>
<path d="M203.06 722.2H206.16M204.61 722.2V723.8M203.06 723.8H206.16" stroke="#000" stroke-width="1.6" fill="none"/><path d="M204.61 722.2V723.8" stroke="#000" stroke-width="1.9"/>
<path d="M217.76 718.9H220.86M219.31 718.9V720.5M217.76 720.5H220.86" stroke="#000" stroke-width="1.6" fill="none"/><path d="M219.31 718.9V720.5" stroke="#000" stroke-width="1.9"/>
<path d="M243.66 713H246.76M245.21 713V714.6M243.66 714.6H246.76" stroke="#000" stroke-width="1.6" fill="none"/><path d="M245.21 713V714.6" stroke="#000" stroke-width="1.9"/>
<path d="M269.38 708.1H272.48M270.93 708.1V709.7M269.38 709.7H272.48" stroke="#000" stroke-width="1.6" fill="none"/><path d="M270.93 708.1V709.7" stroke="#000" stroke-width="1.9"/>
<path d="M295.28 702.9H298.38M296.83 702.9V704.5M295.28 704.5H298.38" stroke="#000" stroke-width="1.6" fill="none"/><path d="M296.83 702.9V704.5" stroke="#000" stroke-width="1.9"/>
<path d="M322.65 698.7H325.75M324.2 698.7V700.3M322.65 700.3H325.75" stroke="#000" stroke-width="1.6" fill="none"/><path d="M324.2 698.7V700.3" stroke="#000" stroke-width="1.9"/>
<path d="M130.69 746.2H133.79M132.24 746.2V747.8M130.69 747.8H133.79" stroke="#000" stroke-width="1.6" fill="none"/><path d="M132.24 746.2V747.8" stroke="#000" stroke-width="1.9"/>
<path d="M134.54 734.2H137.64M136.09 734.2V735.8M134.54 735.8H137.64" stroke="#000" stroke-width="1.6" fill="none"/><path d="M136.09 734.2V735.8" stroke="#000" stroke-width="1.9"/>
<path d="M138.03 726.2H141.14M139.59 726.2V727.8M138.03 727.8H141.14" stroke="#000" stroke-width="1.6" fill="none"/><path d="M139.59 726.2V727.8" stroke="#000" stroke-width="1.9"/>
<path d="M141.71 719.9H144.81M143.26 719.9V721.5M141.71 721.5H144.81" stroke="#000" stroke-width="1.6" fill="none"/><path d="M143.26 719.9V721.5" stroke="#000" stroke-width="1.9"/>
<path d="M145.38 713.9H148.48M146.93 713.9V715.5M145.38 715.5H148.48" stroke="#000" stroke-width="1.6" fill="none"/><path d="M146.93 713.9V715.5" stroke="#000" stroke-width="1.9"/>
<path d="M152.73 703.6H155.83M154.28 703.6V705.4M152.73 705.4H155.83" stroke="#000" stroke-width="1.6" fill="none"/><path d="M154.28 703.6V705.4" stroke="#000" stroke-width="1.9"/>
<path d="M165.77 686.9H168.87M167.32 686.9V691.3M165.77 691.3H168.87" stroke="#000" stroke-width="1.6" fill="none"/><path d="M167.32 686.9V691.3" stroke="#000" stroke-width="1.9"/>
<path d="M176.98 677.6H180.08M178.53 677.6V683.6M176.98 683.6H180.08" stroke="#000" stroke-width="1.6" fill="none"/><path d="M178.53 677.6V683.6" stroke="#000" stroke-width="1.9"/>
<path d="M189.84 670.5H192.94M191.39 670.5V678.1M189.84 678.1H192.94" stroke="#000" stroke-width="1.6" fill="none"/><path d="M191.39 670.5V678.1" stroke="#000" stroke-width="1.9"/>
<path d="M203.06 664.7H206.16M204.61 664.7V672.3M203.06 672.3H206.16" stroke="#000" stroke-width="1.6" fill="none"/><path d="M204.61 664.7V672.3" stroke="#000" stroke-width="1.9"/>
<path d="M217.76 658.2H220.86M219.31 658.2V665.8M217.76 665.8H220.86" stroke="#000" stroke-width="1.6" fill="none"/><path d="M219.31 658.2V665.8" stroke="#000" stroke-width="1.9"/>
<path d="M243.66 650.5H246.76M245.21 650.5V658.1M243.66 658.1H246.76" stroke="#000" stroke-width="1.6" fill="none"/><path d="M245.21 650.5V658.1" stroke="#000" stroke-width="1.9"/>
<path d="M269.38 644.3H272.48M270.93 644.3V651.9M269.38 651.9H272.48" stroke="#000" stroke-width="1.6" fill="none"/><path d="M270.93 644.3V651.9" stroke="#000" stroke-width="1.9"/>
<path d="M295.28 640.1H298.38M296.83 640.1V647.7M295.28 647.7H298.38" stroke="#000" stroke-width="1.6" fill="none"/><path d="M296.83 640.1V647.7" stroke="#000" stroke-width="1.9"/>
<path d="M322.65 637.6H325.75M324.2 637.6V645.2M322.65 645.2H325.75" stroke="#000" stroke-width="1.6" fill="none"/><path d="M324.2 637.6V645.2" stroke="#000" stroke-width="1.9"/>
<path d="M130.69 744H133.79M132.24 744V746M130.69 746H133.79" stroke="#000" stroke-width="1.6" fill="none"/><path d="M132.24 744V746" stroke="#000" stroke-width="1.9"/>
<path d="M134.54 730H137.64M136.09 730V732M134.54 732H137.64" stroke="#000" stroke-width="1.6" fill="none"/><path d="M136.09 730V732" stroke="#000" stroke-width="1.9"/>
<path d="M138.03 718.5H141.14M139.59 718.5V720.5M138.03 720.5H141.14" stroke="#000" stroke-width="1.6" fill="none"/><path d="M139.59 718.5V720.5" stroke="#000" stroke-width="1.9"/>
<path d="M141.71 711H144.81M143.26 711V713.4M141.71 713.4H144.81" stroke="#000" stroke-width="1.6" fill="none"/><path d="M143.26 711V713.4" stroke="#000" stroke-width="1.9"/>
<path d="M145.38 700.7H148.48M146.93 700.7V703.1M145.38 703.1H148.48" stroke="#000" stroke-width="1.6" fill="none"/><path d="M146.93 700.7V703.1" stroke="#000" stroke-width="1.9"/>
<path d="M152.73 688.4H155.83M154.28 688.4V691.6M152.73 691.6H155.83" stroke="#000" stroke-width="1.6" fill="none"/><path d="M154.28 688.4V691.6" stroke="#000" stroke-width="1.9"/>
<path d="M165.77 671.6H168.87M167.32 671.6V676M165.77 676H168.87" stroke="#000" stroke-width="1.6" fill="none"/><path d="M167.32 671.6V676" stroke="#000" stroke-width="1.9"/>
<path d="M176.98 661.5H180.08M178.53 661.5V666.3M176.98 666.3H180.08" stroke="#000" stroke-width="1.6" fill="none"/><path d="M178.53 661.5V666.3" stroke="#000" stroke-width="1.9"/>
<path d="M189.84 654.3H192.94M191.39 654.3V659.1M189.84 659.1H192.94" stroke="#000" stroke-width="1.6" fill="none"/><path d="M191.39 654.3V659.1" stroke="#000" stroke-width="1.9"/>
<path d="M203.06 649.3H206.16M204.61 649.3V654.1M203.06 654.1H206.16" stroke="#000" stroke-width="1.6" fill="none"/><path d="M204.61 649.3V654.1" stroke="#000" stroke-width="1.9"/>
<path d="M217.76 642.9H220.86M219.31 642.9V647.7M217.76 647.7H220.86" stroke="#000" stroke-width="1.6" fill="none"/><path d="M219.31 642.9V647.7" stroke="#000" stroke-width="1.9"/>
<path d="M243.66 633.2H246.76M245.21 633.2V638M243.66 638H246.76" stroke="#000" stroke-width="1.6" fill="none"/><path d="M245.21 633.2V638" stroke="#000" stroke-width="1.9"/>
<path d="M269.38 627.4H272.48M270.93 627.4V632.2M269.38 632.2H272.48" stroke="#000" stroke-width="1.6" fill="none"/><path d="M270.93 627.4V632.2" stroke="#000" stroke-width="1.9"/>
<path d="M295.28 621.8H298.38M296.83 621.8V626.6M295.28 626.6H298.38" stroke="#000" stroke-width="1.6" fill="none"/><path d="M296.83 621.8V626.6" stroke="#000" stroke-width="1.9"/>
<path d="M322.65 617.7H325.75M324.2 617.7V622.5M322.65 622.5H325.75" stroke="#000" stroke-width="1.6" fill="none"/><path d="M324.2 617.7V622.5" stroke="#000" stroke-width="1.9"/>
<path d="M130.69 741H133.79M132.24 741V744M130.69 744H133.79" stroke="#000" stroke-width="1.6" fill="none"/><path d="M132.24 741V744" stroke="#000" stroke-width="1.9"/>
<path d="M134.54 725.2H137.64M136.09 725.2V728.2M134.54 728.2H137.64" stroke="#000" stroke-width="1.6" fill="none"/><path d="M136.09 725.2V728.2" stroke="#000" stroke-width="1.9"/>
<path d="M138.03 711.5H141.14M139.59 711.5V714.5M138.03 714.5H141.14" stroke="#000" stroke-width="1.6" fill="none"/><path d="M139.59 711.5V714.5" stroke="#000" stroke-width="1.9"/>
<path d="M141.71 700.8H144.81M143.26 700.8V703.8M141.71 703.8H144.81" stroke="#000" stroke-width="1.6" fill="none"/><path d="M143.26 700.8V703.8" stroke="#000" stroke-width="1.9"/>
<path d="M145.38 692.2H148.48M146.93 692.2V695.2M145.38 695.2H148.48" stroke="#000" stroke-width="1.6" fill="none"/><path d="M146.93 692.2V695.2" stroke="#000" stroke-width="1.9"/>
<path d="M152.73 679.9H155.83M154.28 679.9V682.9M152.73 682.9H155.83" stroke="#000" stroke-width="1.6" fill="none"/><path d="M154.28 679.9V682.9" stroke="#000" stroke-width="1.9"/>
<path d="M165.77 663.7H168.87M167.32 663.7V666.7M165.77 666.7H168.87" stroke="#000" stroke-width="1.6" fill="none"/><path d="M167.32 663.7V666.7" stroke="#000" stroke-width="1.9"/>
<path d="M176.98 653.5H180.08M178.53 653.5V656.5M176.98 656.5H180.08" stroke="#000" stroke-width="1.6" fill="none"/><path d="M178.53 653.5V656.5" stroke="#000" stroke-width="1.9"/>
<path d="M189.84 645.8H192.94M191.39 645.8V648.8M189.84 648.8H192.94" stroke="#000" stroke-width="1.6" fill="none"/><path d="M191.39 645.8V648.8" stroke="#000" stroke-width="1.9"/>
<path d="M203.06 639.3H206.16M204.61 639.3V642.3M203.06 642.3H206.16" stroke="#000" stroke-width="1.6" fill="none"/><path d="M204.61 639.3V642.3" stroke="#000" stroke-width="1.9"/>
<path d="M217.76 631.1H220.86M219.31 631.1V634.1M217.76 634.1H220.86" stroke="#000" stroke-width="1.6" fill="none"/><path d="M219.31 631.1V634.1" stroke="#000" stroke-width="1.9"/>
<path d="M243.66 618.2H246.76M245.21 618.2V621.2M243.66 621.2H246.76" stroke="#000" stroke-width="1.6" fill="none"/><path d="M245.21 618.2V621.2" stroke="#000" stroke-width="1.9"/>
<path d="M269.38 610.9H272.48M270.93 610.9V613.9M269.38 613.9H272.48" stroke="#000" stroke-width="1.6" fill="none"/><path d="M270.93 610.9V613.9" stroke="#000" stroke-width="1.9"/>
<path d="M295.28 605.5H298.38M296.83 605.5V608.5M295.28 608.5H298.38" stroke="#000" stroke-width="1.6" fill="none"/><path d="M296.83 605.5V608.5" stroke="#000" stroke-width="1.9"/>
<path d="M322.65 600.9H325.75M324.2 600.9V603.9M322.65 603.9H325.75" stroke="#000" stroke-width="1.6" fill="none"/><path d="M324.2 600.9V603.9" stroke="#000" stroke-width="1.9"/>
</g>
<g clip-path="url(#cdR)">
<polyline points="382.04,742 385.91,731.5 389.41,720 393.1,710 396.79,704.4 404.16,694.5 417.24,683.5 428.49,677.7 441.39,673.2 454.66,669.5 469.4,664.6 495.39,657 521.19,650.8 547.18,646.3 574.64,643.3" fill="none" stroke="#000" stroke-width="1.15" stroke-linejoin="round"/>
<polyline points="382.04,742.5 385.91,728.6 389.41,717.2 393.1,706.2 396.79,696.2 404.16,683.3 417.24,668.6 428.49,661 441.39,655 454.66,651.1 469.4,646.4 495.39,638.7 521.19,632.9 547.18,627.9 574.64,624.4" fill="none" stroke="#000" stroke-width="1.15" stroke-linejoin="round"/>
<polyline points="382.04,742 385.91,725.8 389.41,712 393.1,698.8 396.79,688.3 404.16,673.3 417.24,657.5 428.49,649 441.39,642.5 454.66,637.4 469.4,632 495.39,623.3 521.19,617.1 547.18,611.8 574.64,607.2" fill="none" stroke="#000" stroke-width="1.15" stroke-linejoin="round"/>
<circle cx="382.04" cy="742" r="4.85" fill="#fff" stroke="#000" stroke-width="1"/>
<circle cx="385.91" cy="731.5" r="4.85" fill="#fff" stroke="#000" stroke-width="1"/>
<circle cx="389.41" cy="720" r="4.85" fill="#fff" stroke="#000" stroke-width="1"/>
<circle cx="393.1" cy="710" r="4.85" fill="#fff" stroke="#000" stroke-width="1"/>
<circle cx="396.79" cy="704.4" r="4.85" fill="#fff" stroke="#000" stroke-width="1"/>
<circle cx="404.16" cy="694.5" r="4.85" fill="#fff" stroke="#000" stroke-width="1"/>
<circle cx="417.24" cy="683.5" r="4.85" fill="#fff" stroke="#000" stroke-width="1"/>
<circle cx="428.49" cy="677.7" r="4.85" fill="#fff" stroke="#000" stroke-width="1"/>
<circle cx="441.39" cy="673.2" r="4.85" fill="#fff" stroke="#000" stroke-width="1"/>
<circle cx="454.66" cy="669.5" r="4.85" fill="#fff" stroke="#000" stroke-width="1"/>
<circle cx="469.4" cy="664.6" r="4.85" fill="#fff" stroke="#000" stroke-width="1"/>
<circle cx="495.39" cy="657" r="4.85" fill="#fff" stroke="#000" stroke-width="1"/>
<circle cx="521.19" cy="650.8" r="4.85" fill="#fff" stroke="#000" stroke-width="1"/>
<circle cx="547.18" cy="646.3" r="4.85" fill="#fff" stroke="#000" stroke-width="1"/>
<circle cx="574.64" cy="643.3" r="4.85" fill="#fff" stroke="#000" stroke-width="1"/>
<circle cx="382.04" cy="742.5" r="4.85" fill="#c3c3c3" stroke="#000" stroke-width="1"/>
<circle cx="385.91" cy="728.6" r="4.85" fill="#c3c3c3" stroke="#000" stroke-width="1"/>
<circle cx="389.41" cy="717.2" r="4.85" fill="#c3c3c3" stroke="#000" stroke-width="1"/>
<circle cx="393.1" cy="706.2" r="4.85" fill="#c3c3c3" stroke="#000" stroke-width="1"/>
<circle cx="396.79" cy="696.2" r="4.85" fill="#c3c3c3" stroke="#000" stroke-width="1"/>
<circle cx="404.16" cy="683.3" r="4.85" fill="#c3c3c3" stroke="#000" stroke-width="1"/>
<circle cx="417.24" cy="668.6" r="4.85" fill="#c3c3c3" stroke="#000" stroke-width="1"/>
<circle cx="428.49" cy="661" r="4.85" fill="#c3c3c3" stroke="#000" stroke-width="1"/>
<circle cx="441.39" cy="655" r="4.85" fill="#c3c3c3" stroke="#000" stroke-width="1"/>
<circle cx="454.66" cy="651.1" r="4.85" fill="#c3c3c3" stroke="#000" stroke-width="1"/>
<circle cx="469.4" cy="646.4" r="4.85" fill="#c3c3c3" stroke="#000" stroke-width="1"/>
<circle cx="495.39" cy="638.7" r="4.85" fill="#c3c3c3" stroke="#000" stroke-width="1"/>
<circle cx="521.19" cy="632.9" r="4.85" fill="#c3c3c3" stroke="#000" stroke-width="1"/>
<circle cx="547.18" cy="627.9" r="4.85" fill="#c3c3c3" stroke="#000" stroke-width="1"/>
<circle cx="574.64" cy="624.4" r="4.85" fill="#c3c3c3" stroke="#000" stroke-width="1"/>
<circle cx="382.04" cy="742" r="5.35" fill="#000"/>
<circle cx="385.91" cy="725.8" r="5.35" fill="#000"/>
<circle cx="389.41" cy="712" r="5.35" fill="#000"/>
<circle cx="393.1" cy="698.8" r="5.35" fill="#000"/>
<circle cx="396.79" cy="688.3" r="5.35" fill="#000"/>
<circle cx="404.16" cy="673.3" r="5.35" fill="#000"/>
<circle cx="417.24" cy="657.5" r="5.35" fill="#000"/>
<circle cx="428.49" cy="649" r="5.35" fill="#000"/>
<circle cx="441.39" cy="642.5" r="5.35" fill="#000"/>
<circle cx="454.66" cy="637.4" r="5.35" fill="#000"/>
<circle cx="469.4" cy="632" r="5.35" fill="#000"/>
<circle cx="495.39" cy="623.3" r="5.35" fill="#000"/>
<circle cx="521.19" cy="617.1" r="5.35" fill="#000"/>
<circle cx="547.18" cy="611.8" r="5.35" fill="#000"/>
<circle cx="574.64" cy="607.2" r="5.35" fill="#000"/>
<path d="M380.49 741.2H383.59M382.04 741.2V742.8M380.49 742.8H383.59" stroke="#000" stroke-width="1.6" fill="none"/><path d="M382.04 741.2V742.8" stroke="#000" stroke-width="1.9"/>
<path d="M384.36 730.7H387.46M385.91 730.7V732.3M384.36 732.3H387.46" stroke="#000" stroke-width="1.6" fill="none"/><path d="M385.91 730.7V732.3" stroke="#000" stroke-width="1.9"/>
<path d="M387.86 719.2H390.96M389.41 719.2V720.8M387.86 720.8H390.96" stroke="#000" stroke-width="1.6" fill="none"/><path d="M389.41 719.2V720.8" stroke="#000" stroke-width="1.9"/>
<path d="M391.55 709.2H394.65M393.1 709.2V710.8M391.55 710.8H394.65" stroke="#000" stroke-width="1.6" fill="none"/><path d="M393.1 709.2V710.8" stroke="#000" stroke-width="1.9"/>
<path d="M395.24 703.6H398.34M396.79 703.6V705.2M395.24 705.2H398.34" stroke="#000" stroke-width="1.6" fill="none"/><path d="M396.79 703.6V705.2" stroke="#000" stroke-width="1.9"/>
<path d="M402.61 693.7H405.71M404.16 693.7V695.3M402.61 695.3H405.71" stroke="#000" stroke-width="1.6" fill="none"/><path d="M404.16 693.7V695.3" stroke="#000" stroke-width="1.9"/>
<path d="M415.69 682.7H418.79M417.24 682.7V684.3M415.69 684.3H418.79" stroke="#000" stroke-width="1.6" fill="none"/><path d="M417.24 682.7V684.3" stroke="#000" stroke-width="1.9"/>
<path d="M426.94 676.9H430.04M428.49 676.9V678.5M426.94 678.5H430.04" stroke="#000" stroke-width="1.6" fill="none"/><path d="M428.49 676.9V678.5" stroke="#000" stroke-width="1.9"/>
<path d="M439.84 672.4H442.94M441.39 672.4V674M439.84 674H442.94" stroke="#000" stroke-width="1.6" fill="none"/><path d="M441.39 672.4V674" stroke="#000" stroke-width="1.9"/>
<path d="M453.11 668.7H456.21M454.66 668.7V670.3M453.11 670.3H456.21" stroke="#000" stroke-width="1.6" fill="none"/><path d="M454.66 668.7V670.3" stroke="#000" stroke-width="1.9"/>
<path d="M467.85 663.8H470.95M469.4 663.8V665.4M467.85 665.4H470.95" stroke="#000" stroke-width="1.6" fill="none"/><path d="M469.4 663.8V665.4" stroke="#000" stroke-width="1.9"/>
<path d="M493.84 656.2H496.94M495.39 656.2V657.8M493.84 657.8H496.94" stroke="#000" stroke-width="1.6" fill="none"/><path d="M495.39 656.2V657.8" stroke="#000" stroke-width="1.9"/>
<path d="M519.64 650H522.74M521.19 650V651.6M519.64 651.6H522.74" stroke="#000" stroke-width="1.6" fill="none"/><path d="M521.19 650V651.6" stroke="#000" stroke-width="1.9"/>
<path d="M545.63 645.5H548.73M547.18 645.5V647.1M545.63 647.1H548.73" stroke="#000" stroke-width="1.6" fill="none"/><path d="M547.18 645.5V647.1" stroke="#000" stroke-width="1.9"/>
<path d="M573.09 642.5H576.19M574.64 642.5V644.1M573.09 644.1H576.19" stroke="#000" stroke-width="1.6" fill="none"/><path d="M574.64 642.5V644.1" stroke="#000" stroke-width="1.9"/>
<path d="M380.49 740.1H383.59M382.04 740.1V744.9M380.49 744.9H383.59" stroke="#000" stroke-width="1.6" fill="none"/><path d="M382.04 740.1V744.9" stroke="#000" stroke-width="1.9"/>
<path d="M384.36 726.2H387.46M385.91 726.2V731M384.36 731H387.46" stroke="#000" stroke-width="1.6" fill="none"/><path d="M385.91 726.2V731" stroke="#000" stroke-width="1.9"/>
<path d="M387.86 714.8H390.96M389.41 714.8V719.6M387.86 719.6H390.96" stroke="#000" stroke-width="1.6" fill="none"/><path d="M389.41 714.8V719.6" stroke="#000" stroke-width="1.9"/>
<path d="M391.55 703.8H394.65M393.1 703.8V708.6M391.55 708.6H394.65" stroke="#000" stroke-width="1.6" fill="none"/><path d="M393.1 703.8V708.6" stroke="#000" stroke-width="1.9"/>
<path d="M395.24 693.8H398.34M396.79 693.8V698.6M395.24 698.6H398.34" stroke="#000" stroke-width="1.6" fill="none"/><path d="M396.79 693.8V698.6" stroke="#000" stroke-width="1.9"/>
<path d="M402.61 680.9H405.71M404.16 680.9V685.7M402.61 685.7H405.71" stroke="#000" stroke-width="1.6" fill="none"/><path d="M404.16 680.9V685.7" stroke="#000" stroke-width="1.9"/>
<path d="M415.69 666.2H418.79M417.24 666.2V671M415.69 671H418.79" stroke="#000" stroke-width="1.6" fill="none"/><path d="M417.24 666.2V671" stroke="#000" stroke-width="1.9"/>
<path d="M426.94 658.6H430.04M428.49 658.6V663.4M426.94 663.4H430.04" stroke="#000" stroke-width="1.6" fill="none"/><path d="M428.49 658.6V663.4" stroke="#000" stroke-width="1.9"/>
<path d="M439.84 652.6H442.94M441.39 652.6V657.4M439.84 657.4H442.94" stroke="#000" stroke-width="1.6" fill="none"/><path d="M441.39 652.6V657.4" stroke="#000" stroke-width="1.9"/>
<path d="M453.11 648.7H456.21M454.66 648.7V653.5M453.11 653.5H456.21" stroke="#000" stroke-width="1.6" fill="none"/><path d="M454.66 648.7V653.5" stroke="#000" stroke-width="1.9"/>
<path d="M467.85 644H470.95M469.4 644V648.8M467.85 648.8H470.95" stroke="#000" stroke-width="1.6" fill="none"/><path d="M469.4 644V648.8" stroke="#000" stroke-width="1.9"/>
<path d="M493.84 636.3H496.94M495.39 636.3V641.1M493.84 641.1H496.94" stroke="#000" stroke-width="1.6" fill="none"/><path d="M495.39 636.3V641.1" stroke="#000" stroke-width="1.9"/>
<path d="M519.64 630.5H522.74M521.19 630.5V635.3M519.64 635.3H522.74" stroke="#000" stroke-width="1.6" fill="none"/><path d="M521.19 630.5V635.3" stroke="#000" stroke-width="1.9"/>
<path d="M545.63 625.5H548.73M547.18 625.5V630.3M545.63 630.3H548.73" stroke="#000" stroke-width="1.6" fill="none"/><path d="M547.18 625.5V630.3" stroke="#000" stroke-width="1.9"/>
<path d="M573.09 622H576.19M574.64 622V626.8M573.09 626.8H576.19" stroke="#000" stroke-width="1.6" fill="none"/><path d="M574.64 622V626.8" stroke="#000" stroke-width="1.9"/>
<path d="M380.49 740.5H383.59M382.04 740.5V743.5M380.49 743.5H383.59" stroke="#000" stroke-width="1.6" fill="none"/><path d="M382.04 740.5V743.5" stroke="#000" stroke-width="1.9"/>
<path d="M384.36 724.3H387.46M385.91 724.3V727.3M384.36 727.3H387.46" stroke="#000" stroke-width="1.6" fill="none"/><path d="M385.91 724.3V727.3" stroke="#000" stroke-width="1.9"/>
<path d="M387.86 710.5H390.96M389.41 710.5V713.5M387.86 713.5H390.96" stroke="#000" stroke-width="1.6" fill="none"/><path d="M389.41 710.5V713.5" stroke="#000" stroke-width="1.9"/>
<path d="M391.55 697.3H394.65M393.1 697.3V700.3M391.55 700.3H394.65" stroke="#000" stroke-width="1.6" fill="none"/><path d="M393.1 697.3V700.3" stroke="#000" stroke-width="1.9"/>
<path d="M395.24 686.8H398.34M396.79 686.8V689.8M395.24 689.8H398.34" stroke="#000" stroke-width="1.6" fill="none"/><path d="M396.79 686.8V689.8" stroke="#000" stroke-width="1.9"/>
<path d="M402.61 671.8H405.71M404.16 671.8V674.8M402.61 674.8H405.71" stroke="#000" stroke-width="1.6" fill="none"/><path d="M404.16 671.8V674.8" stroke="#000" stroke-width="1.9"/>
<path d="M415.69 656H418.79M417.24 656V659M415.69 659H418.79" stroke="#000" stroke-width="1.6" fill="none"/><path d="M417.24 656V659" stroke="#000" stroke-width="1.9"/>
<path d="M426.94 647.5H430.04M428.49 647.5V650.5M426.94 650.5H430.04" stroke="#000" stroke-width="1.6" fill="none"/><path d="M428.49 647.5V650.5" stroke="#000" stroke-width="1.9"/>
<path d="M439.84 641H442.94M441.39 641V644M439.84 644H442.94" stroke="#000" stroke-width="1.6" fill="none"/><path d="M441.39 641V644" stroke="#000" stroke-width="1.9"/>
<path d="M453.11 635.9H456.21M454.66 635.9V638.9M453.11 638.9H456.21" stroke="#000" stroke-width="1.6" fill="none"/><path d="M454.66 635.9V638.9" stroke="#000" stroke-width="1.9"/>
<path d="M467.85 630.5H470.95M469.4 630.5V633.5M467.85 633.5H470.95" stroke="#000" stroke-width="1.6" fill="none"/><path d="M469.4 630.5V633.5" stroke="#000" stroke-width="1.9"/>
<path d="M493.84 621.8H496.94M495.39 621.8V624.8M493.84 624.8H496.94" stroke="#000" stroke-width="1.6" fill="none"/><path d="M495.39 621.8V624.8" stroke="#000" stroke-width="1.9"/>
<path d="M519.64 615.6H522.74M521.19 615.6V618.6M519.64 618.6H522.74" stroke="#000" stroke-width="1.6" fill="none"/><path d="M521.19 615.6V618.6" stroke="#000" stroke-width="1.9"/>
<path d="M545.63 610.3H548.73M547.18 610.3V613.3M545.63 613.3H548.73" stroke="#000" stroke-width="1.6" fill="none"/><path d="M547.18 610.3V613.3" stroke="#000" stroke-width="1.9"/>
<path d="M573.09 605.7H576.19M574.64 605.7V608.7M573.09 608.7H576.19" stroke="#000" stroke-width="1.6" fill="none"/><path d="M574.64 605.7V608.7" stroke="#000" stroke-width="1.9"/>
</g>
<rect x="473" y="671" width="140" height="85" fill="#fff"/>
<rect x="479" y="676.4" width="19" height="18.9" fill="#fff" stroke="#d4d4d4" stroke-width="1"/>
<rect x="479" y="695.3" width="19" height="19.1" fill="#fff" stroke="#d4d4d4" stroke-width="1"/>
<rect x="479" y="714.4" width="19" height="19" fill="#fff" stroke="#d4d4d4" stroke-width="1"/>
<rect x="479" y="733.4" width="19" height="18.9" fill="#fff" stroke="#d4d4d4" stroke-width="1"/>
<path d="M488.5 679.25L495.08 690.65L481.92 690.65Z" fill="none" stroke="#000" stroke-width="1.1" stroke-linejoin="miter"/>
<circle cx="488.5" cy="704.85" r="4.85" fill="#fff" stroke="#000" stroke-width="1"/>
<circle cx="488.5" cy="723.9" r="4.85" fill="#c3c3c3" stroke="#000" stroke-width="1"/>
<circle cx="488.5" cy="742.85" r="5.35" fill="#000"/>
<text x="503.6" y="689.8" font-size="12.8" text-anchor="start" >Control</text>
<text x="503.6" y="709.7" font-size="12.8" text-anchor="start" >Soil + 0.5 g residue</text>
<text x="503.6" y="728.4" font-size="12.8" text-anchor="start" >Soil + 1.0 g residue</text>
<text x="503.6" y="747.3" font-size="12.8" text-anchor="start" >Soil + 1.5 g residue</text>
<rect x="120.5" y="32.6" width="242.8" height="169.7" fill="none" stroke="#a3a3a3" stroke-width="1.15"/>
<rect x="370.4" y="32.6" width="242.4" height="169.7" fill="none" stroke="#a3a3a3" stroke-width="1.15"/>
<rect x="120.6" y="219.3" width="242.8" height="169.8" fill="none" stroke="#a3a3a3" stroke-width="1.15"/>
<rect x="370.5" y="219.3" width="242.9" height="169.8" fill="none" stroke="#a3a3a3" stroke-width="1.15"/>
<rect x="119.8" y="404.3" width="243.2" height="166.3" fill="none" stroke="#a3a3a3" stroke-width="1.15"/>
<rect x="369.9" y="404.3" width="243.4" height="166.3" fill="none" stroke="#a3a3a3" stroke-width="1.15"/>
<rect x="119.4" y="586.5" width="243" height="171" fill="none" stroke="#a3a3a3" stroke-width="1.15"/>
<rect x="369.4" y="586.5" width="242.9" height="171" fill="none" stroke="#a3a3a3" stroke-width="1.15"/>
<text transform="translate(617 71) rotate(90)" font-size="22" text-anchor="start">Bulk soil</text>
<text transform="translate(620.6 224.5) rotate(90)" font-size="19" text-anchor="start">Carbon-normalized</text>
<text transform="translate(618.6 447.8) rotate(90)" font-size="22" text-anchor="start">Bulk soil</text>
<text transform="translate(620 590.4) rotate(90)" font-size="19" text-anchor="start">Carbon-normalized</text>
<text x="643.5" y="19.2" font-size="25" text-anchor="start" >(a)</text>
<text x="643.5" y="225" font-size="25" text-anchor="start" >(b)</text>
<text x="643" y="418.3" font-size="25" text-anchor="start" >(c)</text>
<text x="643.5" y="599.5" font-size="25" text-anchor="start" >(d)</text>
<path d="M116.9 196.9H120.5" stroke="#333" stroke-width="1.1"/>
<text x="114.2" y="202.9" font-size="18.8" text-anchor="end" >0</text>
<path d="M116.9 155.77H120.5" stroke="#333" stroke-width="1.1"/>
<text x="114.2" y="161.77" font-size="18.8" text-anchor="end" >10</text>
<path d="M116.9 114.64H120.5" stroke="#333" stroke-width="1.1"/>
<text x="114.2" y="120.64" font-size="18.8" text-anchor="end" >20</text>
<path d="M116.9 73.51H120.5" stroke="#333" stroke-width="1.1"/>
<text x="114.2" y="79.51" font-size="18.8" text-anchor="end" >30</text>
<path d="M117 384.7H120.6" stroke="#333" stroke-width="1.1"/>
<text x="115" y="390.7" font-size="18.8" text-anchor="end" >0.0</text>
<path d="M117 336.8H120.6" stroke="#333" stroke-width="1.1"/>
<text x="115" y="342.8" font-size="18.8" text-anchor="end" >0.5</text>
<path d="M117 288.9H120.6" stroke="#333" stroke-width="1.1"/>
<text x="115" y="294.9" font-size="18.8" text-anchor="end" >1.0</text>
<path d="M117 241H120.6" stroke="#333" stroke-width="1.1"/>
<text x="115" y="247" font-size="18.8" text-anchor="end" >1.5</text>
<path d="M116.2 563.2H119.8" stroke="#333" stroke-width="1.1"/>
<text x="111.6" y="569.2" font-size="18.8" text-anchor="end" >0</text>
<path d="M116.2 532.84H119.8" stroke="#333" stroke-width="1.1"/>
<text x="111.6" y="538.84" font-size="18.8" text-anchor="end" >1</text>
<path d="M116.2 502.48H119.8" stroke="#333" stroke-width="1.1"/>
<text x="111.6" y="508.48" font-size="18.8" text-anchor="end" >2</text>
<path d="M116.2 472.12H119.8" stroke="#333" stroke-width="1.1"/>
<text x="111.6" y="478.12" font-size="18.8" text-anchor="end" >3</text>
<path d="M116.2 441.76H119.8" stroke="#333" stroke-width="1.1"/>
<text x="111.6" y="447.76" font-size="18.8" text-anchor="end" >4</text>
<path d="M116.2 411.4H119.8" stroke="#333" stroke-width="1.1"/>
<text x="111.6" y="417.4" font-size="18.8" text-anchor="end" >5</text>
<path d="M115.8 750.3H119.4" stroke="#333" stroke-width="1.1"/>
<text x="112.1" y="756.3" font-size="18.8" text-anchor="end" >0</text>
<path d="M115.8 711.15H119.4" stroke="#333" stroke-width="1.1"/>
<text x="112.1" y="717.15" font-size="18.8" text-anchor="end" >0.05</text>
<path d="M115.8 672H119.4" stroke="#333" stroke-width="1.1"/>
<text x="112.1" y="678" font-size="18.8" text-anchor="end" >0.10</text>
<path d="M115.8 632.85H119.4" stroke="#333" stroke-width="1.1"/>
<text x="112.1" y="638.85" font-size="18.8" text-anchor="end" >0.15</text>
<path d="M115.8 593.7H119.4" stroke="#333" stroke-width="1.1"/>
<text x="112.1" y="599.7" font-size="18.8" text-anchor="end" >0.20</text>
<path d="M130.4 757.5V761" stroke="#333" stroke-width="1.1"/>
<text x="130.8" y="780.8" font-size="18.8" text-anchor="middle" >0</text>
<path d="M380.2 757.5V761" stroke="#333" stroke-width="1.1"/>
<text x="380.6" y="780.8" font-size="18.8" text-anchor="middle" >0</text>
<path d="M176.32 757.5V761" stroke="#333" stroke-width="1.1"/>
<text x="176.72" y="780.8" font-size="18.8" text-anchor="middle" >25</text>
<path d="M426.27 757.5V761" stroke="#333" stroke-width="1.1"/>
<text x="426.67" y="780.8" font-size="18.8" text-anchor="middle" >25</text>
<path d="M222.25 757.5V761" stroke="#333" stroke-width="1.1"/>
<text x="222.65" y="780.8" font-size="18.8" text-anchor="middle" >50</text>
<path d="M472.35 757.5V761" stroke="#333" stroke-width="1.1"/>
<text x="472.75" y="780.8" font-size="18.8" text-anchor="middle" >50</text>
<path d="M268.18 757.5V761" stroke="#333" stroke-width="1.1"/>
<text x="268.57" y="780.8" font-size="18.8" text-anchor="middle" >75</text>
<path d="M518.42 757.5V761" stroke="#333" stroke-width="1.1"/>
<text x="518.82" y="780.8" font-size="18.8" text-anchor="middle" >75</text>
<path d="M314.1 757.5V761" stroke="#333" stroke-width="1.1"/>
<text x="314.5" y="780.8" font-size="18.8" text-anchor="middle" >100</text>
<path d="M564.5 757.5V761" stroke="#333" stroke-width="1.1"/>
<text x="564.9" y="780.8" font-size="18.8" text-anchor="middle" >100</text>
<path d="M360.02 757.5V761" stroke="#333" stroke-width="1.1"/>
<text x="357.22" y="780.8" font-size="18.8" text-anchor="middle" >125</text>
<path d="M610.58 757.5V761" stroke="#333" stroke-width="1.1"/>
<text x="607.78" y="780.8" font-size="18.8" text-anchor="middle" >125</text>
<text x="371.5" y="814" font-size="22" text-anchor="middle" >Time (day)</text>
<text transform="translate(31 318.8) rotate(-90)" font-size="25.4" text-anchor="start">Soil respiration rate</text>
<text transform="translate(19.4 689.4) rotate(-90)" font-size="25.4" text-anchor="start">Cumulative C efflux</text>
<text transform="translate(67.9 191.4) rotate(-90)" font-size="18.9" xml:space="preserve">μg CO<tspan font-size="11.2" dy="4.3">2</tspan><tspan dy="-4.3"> g dry soil</tspan><tspan font-size="11.2" dy="-6.8">-1</tspan><tspan dy="6.8"> h</tspan><tspan font-size="11.2" dy="-6.8">-1</tspan></text>
<text transform="translate(67.9 389.3) rotate(-90)" font-size="18.9" xml:space="preserve">mg CO<tspan font-size="11.2" dy="4.3">2</tspan><tspan dy="-4.3"> g  soil C</tspan><tspan font-size="11.2" dy="-6.8">-1</tspan><tspan dy="6.8"> h</tspan><tspan font-size="11.2" dy="-6.8">-1</tspan></text>
<text transform="translate(67.9 554.6) rotate(-90)" font-size="18.9" xml:space="preserve">g  C kg dry soil<tspan font-size="11.2" dy="-6.8">-1</tspan></text>
<text transform="translate(67.9 711.9) rotate(-90)" font-size="18.9" xml:space="preserve">g  C g soil C<tspan font-size="11.2" dy="-6.8">-1</tspan></text>
<text x="454.3" y="86.1" font-size="11.5" text-anchor="start" >Size:</text>
<text x="516.6" y="86.1" font-size="11.9" xml:space="preserve"><tspan font-style="italic">P</tspan> = 0.133</text>
<text x="454.3" y="100.3" font-size="11.5" text-anchor="start" >Rate:</text>
<text x="516.6" y="100.3" font-size="11.9" xml:space="preserve"><tspan font-style="italic">P</tspan> &lt; 0.01</text>
<text x="454.3" y="114" font-size="11.5" text-anchor="start" >Size * Rate:</text>
<text x="516.6" y="114" font-size="11.9" xml:space="preserve"><tspan font-style="italic">P</tspan> = 0.282</text>
<text x="454.3" y="257.8" font-size="11.5" text-anchor="start" >Size:</text>
<text x="516.6" y="257.8" font-size="11.9" xml:space="preserve"><tspan font-style="italic">P</tspan> = 0.590</text>
<text x="454.3" y="271.5" font-size="11.5" text-anchor="start" >Rate:</text>
<text x="516.6" y="271.5" font-size="11.9" xml:space="preserve"><tspan font-style="italic">P</tspan> = 0.089</text>
<text x="454.3" y="285.5" font-size="11.5" text-anchor="start" >Size * Rate:</text>
<text x="516.6" y="285.5" font-size="11.9" xml:space="preserve"><tspan font-style="italic">P</tspan> = 0.982</text>
<text x="372.9" y="415.4" font-size="11.5" text-anchor="start" >Size:</text>
<text x="435" y="415.4" font-size="11.9" xml:space="preserve"><tspan font-style="italic">P</tspan> = 0.454</text>
<text x="372.9" y="429.6" font-size="11.5" text-anchor="start" >Rate:</text>
<text x="435" y="429.6" font-size="11.9" xml:space="preserve"><tspan font-style="italic">P</tspan> &lt; 0.01</text>
<text x="372.9" y="443.8" font-size="11.5" text-anchor="start" >Size * Rate:</text>
<text x="435" y="443.8" font-size="11.9" xml:space="preserve"><tspan font-style="italic">P</tspan> = 0.619</text>
<text x="371" y="596.7" font-size="11.5" text-anchor="start" >Size:</text>
<text x="433.3" y="596.7" font-size="11.9" xml:space="preserve"><tspan font-style="italic">P</tspan> = 0.720</text>
<text x="371" y="610.9" font-size="11.5" text-anchor="start" >Rate:</text>
<text x="433.3" y="610.9" font-size="11.9" xml:space="preserve"><tspan font-style="italic">P</tspan> &lt; 0.01</text>
<text x="371" y="625.1" font-size="11.5" text-anchor="start" >Size * Rate:</text>
<text x="433.3" y="625.1" font-size="11.9" xml:space="preserve"><tspan font-style="italic">P</tspan> = 0.987</text>
</svg></body></html>
